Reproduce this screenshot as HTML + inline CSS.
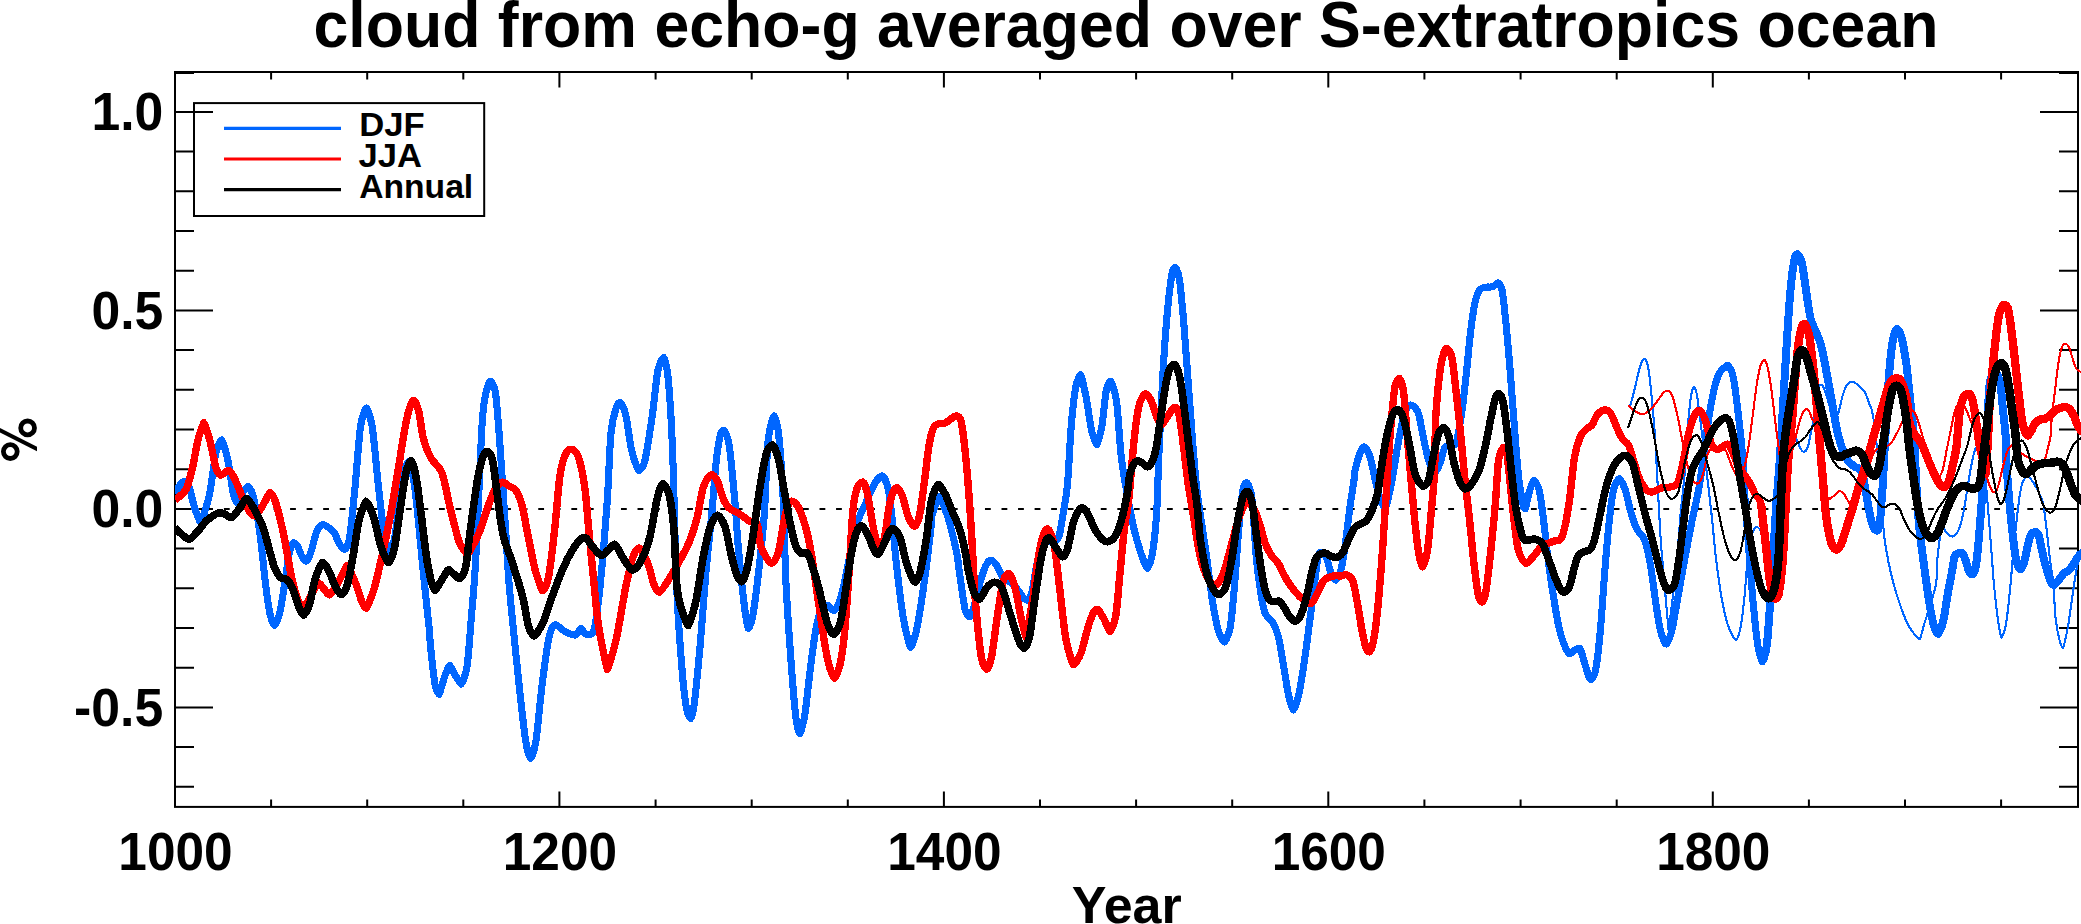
<!DOCTYPE html><html><head><meta charset="utf-8"><title>cloud from echo-g</title>
<style>html,body{margin:0;padding:0;background:#fff;}svg{display:block}text{font-family:"Liberation Sans",sans-serif;font-weight:bold;fill:#000}</style></head><body>
<svg width="2081" height="924" viewBox="0 0 2081 924">
<rect x="0" y="0" width="2081" height="924" fill="#fff"/>
<text x="1126" y="47.3" font-size="65" text-anchor="middle" textLength="1625" lengthAdjust="spacingAndGlyphs">cloud from echo-g averaged over S-extratropics ocean</text>
<defs><clipPath id="c"><rect x="175" y="72" width="1906" height="734.9"/></clipPath></defs>
<rect x="175" y="72" width="1903" height="734.9" fill="none" stroke="#000" stroke-width="2"/>
<path d="M175.0 806.9v-15.5M175.0 72v15.5M271.1 806.9v-7.5M271.1 72v7.5M367.2 806.9v-7.5M367.2 72v7.5M463.3 806.9v-7.5M463.3 72v7.5M559.4 806.9v-15.5M559.4 72v15.5M655.6 806.9v-7.5M655.6 72v7.5M751.7 806.9v-7.5M751.7 72v7.5M847.8 806.9v-7.5M847.8 72v7.5M943.9 806.9v-15.5M943.9 72v15.5M1040.0 806.9v-7.5M1040.0 72v7.5M1136.1 806.9v-7.5M1136.1 72v7.5M1232.2 806.9v-7.5M1232.2 72v7.5M1328.3 806.9v-15.5M1328.3 72v15.5M1424.4 806.9v-7.5M1424.4 72v7.5M1520.6 806.9v-7.5M1520.6 72v7.5M1616.7 806.9v-7.5M1616.7 72v7.5M1712.8 806.9v-15.5M1712.8 72v15.5M1808.9 806.9v-7.5M1808.9 72v7.5M1905.0 806.9v-7.5M1905.0 72v7.5M2001.1 806.9v-7.5M2001.1 72v7.5M175 786.8h19M2078 786.8h-19M175 747.1h19M2078 747.1h-19M175 707.4h38M2078 707.4h-38M175 667.7h19M2078 667.7h-19M175 628.0h19M2078 628.0h-19M175 588.3h19M2078 588.3h-19M175 548.6h19M2078 548.6h-19M175 508.9h38M2078 508.9h-38M175 469.2h19M2078 469.2h-19M175 429.5h19M2078 429.5h-19M175 389.8h19M2078 389.8h-19M175 350.1h19M2078 350.1h-19M175 310.4h38M2078 310.4h-38M175 270.7h19M2078 270.7h-19M175 231.0h19M2078 231.0h-19M175 191.3h19M2078 191.3h-19M175 151.6h19M2078 151.6h-19M175 111.9h38M2078 111.9h-38M175 72.9h19M2078 72.9h-19" stroke="#000" stroke-width="2" fill="none"/>
<line x1="223.9" y1="508.9" x2="2078" y2="508.9" stroke="#000" stroke-width="2" stroke-dasharray="5.8 10.745"/>
<g clip-path="url(#c)" fill="none" stroke-linejoin="round" stroke-linecap="butt" shape-rendering="crispEdges">
<path d="M175.0 493.4C175.7 492.1 177.9 487.7 179.4 485.8C180.8 483.8 182.5 481.5 183.8 481.7C185.1 481.8 187.3 482.6 189.0 486.6C190.7 490.6 192.0 499.4 194.0 505.6C195.9 511.8 200.4 523.7 200.7 523.7C201.0 523.8 204.1 514.0 205.7 508.5C207.2 503.1 208.4 500.3 210.1 491.0C211.8 481.8 214.0 461.6 215.9 453.0C217.8 444.5 221.4 439.7 221.7 439.9C222.1 440.1 225.6 449.9 227.6 458.9C229.5 467.9 231.9 487.6 233.4 493.9C234.9 500.3 237.3 502.8 237.8 502.7C238.3 502.6 241.1 495.2 242.8 492.5C244.5 489.8 247.2 486.3 248.0 486.6C248.9 487.0 251.4 489.4 253.3 496.9C255.2 504.3 257.7 517.3 259.7 531.9C261.8 546.5 263.9 570.9 265.6 584.5C267.3 598.1 268.5 606.9 269.9 613.7C271.4 620.5 274.0 625.4 274.3 625.4C274.7 625.4 277.9 620.5 279.6 613.7C281.3 606.9 283.0 594.2 284.6 584.5C286.1 574.8 287.5 562.2 288.9 555.3C290.4 548.4 292.6 543.8 293.3 543.0C294.1 542.3 296.2 544.2 297.7 546.5C299.2 548.8 300.6 554.3 302.1 556.7C303.5 559.2 305.7 561.5 306.5 561.1C307.2 560.7 309.1 557.2 310.8 552.4C312.5 547.5 314.7 536.5 316.7 531.9C318.6 527.3 320.7 525.3 322.5 524.6C324.3 523.9 326.4 526.2 328.4 527.5C330.3 528.8 332.4 529.8 334.2 532.5C336.0 535.2 337.5 540.8 339.2 543.6C340.9 546.4 343.6 549.8 344.4 549.4C345.3 549.1 348.1 546.7 349.4 539.2C350.7 531.8 352.8 509.8 354.7 491.0C356.5 472.3 358.7 439.9 360.5 426.7C362.4 413.6 366.1 407.8 366.4 407.8C366.6 407.8 370.2 414.3 372.2 426.7C374.1 439.2 376.1 464.7 378.0 482.2C380.0 499.8 381.9 519.7 383.9 531.9C385.8 544.1 389.5 555.2 389.7 555.3C389.9 555.4 393.0 547.5 394.7 537.8C396.4 528.0 398.3 508.1 399.9 496.9C401.6 485.7 402.9 476.4 404.3 470.6C405.8 464.7 408.4 461.6 408.7 461.8C409.0 462.0 411.6 468.1 413.1 476.4C414.6 484.7 415.8 495.4 417.5 511.5C419.2 527.5 421.4 553.3 423.3 572.8C425.3 592.3 428.0 616.5 429.2 628.3C430.3 640.1 429.6 636.8 430.5 646.1C431.5 655.4 433.6 676.8 434.9 684.0C436.2 691.3 439.0 694.5 439.3 694.3C439.6 694.0 443.4 680.2 445.1 675.3C446.8 670.4 449.0 665.1 449.5 665.1C450.0 665.1 453.4 672.1 455.3 675.3C457.3 678.4 460.6 684.5 461.2 684.0C461.8 683.6 465.3 677.7 467.0 666.5C468.7 655.3 469.9 634.9 471.4 616.9C472.9 598.8 473.9 591.6 475.8 558.4C477.6 525.2 480.9 440.2 482.5 417.6C484.2 395.0 487.8 386.6 488.4 384.2C489.0 381.7 490.7 380.9 491.3 381.7C491.9 382.5 494.5 385.5 495.7 394.3C496.9 403.1 498.4 423.5 500.1 446.9C501.8 470.2 504.3 511.0 505.9 534.5C507.5 558.0 507.3 564.2 509.4 587.6C511.4 611.1 515.5 650.0 518.1 675.3C520.8 700.6 523.5 726.6 525.5 739.6C527.4 752.5 530.2 758.5 530.4 758.5C530.6 758.6 533.9 753.6 535.7 742.5C537.5 731.4 539.6 706.0 541.5 689.9C543.5 673.8 545.7 656.3 547.4 646.1C549.1 635.8 550.3 632.0 551.7 628.5C553.2 625.1 554.0 624.6 556.1 625.0C558.3 625.5 561.7 629.8 564.9 631.5C568.1 633.1 572.4 635.5 575.1 635.0C577.8 634.5 579.8 628.7 581.0 628.5C582.1 628.4 583.4 633.1 585.3 633.8C587.3 634.5 590.8 635.7 592.6 632.9C594.5 630.1 595.0 626.8 596.4 616.9C597.9 606.9 599.6 592.5 601.4 573.0C603.2 553.6 605.6 523.5 607.3 500.0C608.9 476.5 609.5 447.9 611.1 432.2C612.7 416.6 615.9 408.9 616.9 405.8C617.9 402.7 619.9 401.9 620.7 402.7C621.5 403.6 623.9 406.9 625.7 414.7C627.5 422.6 629.6 440.9 631.5 449.8C633.5 458.7 636.6 466.3 637.4 468.1C638.1 469.9 638.9 470.7 639.7 469.9C640.5 469.2 643.2 467.8 644.7 461.5C646.2 455.1 649.8 432.7 652.0 417.6C654.2 402.5 656.0 380.5 657.8 370.9C659.7 361.3 663.4 357.3 663.7 357.5C663.9 357.6 666.8 363.6 668.0 376.7C669.3 389.9 671.0 411.7 672.4 446.9C673.9 482.0 675.0 549.6 676.7 587.6C678.4 625.7 680.8 654.8 682.5 675.3C684.2 695.7 685.8 704.4 686.9 710.3C688.0 716.2 690.5 718.7 690.7 718.5C690.9 718.4 693.0 714.1 694.2 704.5C695.4 694.9 698.1 668.0 700.1 646.1C702.0 624.2 704.0 594.9 705.9 573.0C707.8 551.1 710.0 533.2 711.7 514.6C713.5 496.0 714.8 475.0 716.2 461.5C717.7 448.0 719.8 436.7 720.6 433.6C721.5 430.4 723.7 429.4 724.4 430.5C725.1 431.6 727.8 435.6 729.4 446.9C731.0 458.1 733.8 489.1 735.2 505.3C736.7 521.4 736.6 527.7 738.0 543.8C739.5 560.0 742.2 588.1 743.9 602.2C745.6 616.4 748.1 628.3 748.3 628.5C748.4 628.8 751.1 625.0 752.6 616.9C754.1 608.7 756.5 590.1 758.5 573.0C760.4 556.0 762.7 536.6 764.3 514.6C765.9 492.6 766.5 457.5 768.1 441.0C769.8 424.6 773.8 416.0 774.0 415.9C774.1 415.8 777.1 421.0 778.4 432.2C779.7 443.5 781.4 464.8 782.8 490.7C784.1 516.6 784.7 556.9 786.2 587.6C787.8 618.4 790.4 652.9 792.1 675.3C793.8 697.7 795.4 714.0 796.5 722.0C797.6 730.1 799.8 733.8 800.0 733.7C800.1 733.6 803.0 725.9 804.6 716.2C806.3 706.4 807.8 689.4 809.6 675.3C811.4 661.2 813.5 642.4 815.5 631.5C817.4 620.5 819.3 613.9 821.3 609.6C823.2 605.2 825.1 605.0 827.1 605.2C829.2 605.3 832.4 611.1 833.9 610.4C835.3 609.8 838.0 606.5 840.3 599.3C842.6 592.1 845.2 578.9 847.6 567.2C850.0 555.5 851.8 540.0 854.9 529.2C858.0 518.4 862.7 510.0 866.0 502.4C869.3 494.7 872.1 487.8 874.8 483.4C877.5 478.9 881.0 475.4 882.1 475.8C883.2 476.1 886.2 480.4 887.9 487.8C889.6 495.1 891.0 508.1 892.3 519.9C893.6 531.7 894.0 542.3 895.8 558.4C897.6 574.6 900.7 602.0 903.1 616.9C905.5 631.7 910.1 647.2 910.4 647.5C910.7 647.8 914.1 641.4 916.2 631.5C918.4 621.5 921.1 604.7 923.5 587.6C926.0 570.6 929.9 537.3 930.8 529.2C931.8 521.1 930.4 522.5 931.7 517.0C933.1 511.5 938.5 496.2 939.0 496.2C939.6 496.2 944.9 507.7 947.8 517.0C950.7 526.3 954.6 542.8 956.6 552.0C958.5 561.2 957.9 562.6 959.4 572.2C960.8 581.9 963.9 604.7 965.2 610.1C966.5 615.4 969.6 617.1 970.2 616.7C970.8 616.2 973.6 607.9 975.4 601.5C977.3 595.0 979.3 584.4 981.3 578.1C983.2 571.7 985.4 566.3 987.1 563.3C988.8 560.4 990.0 559.8 991.5 560.3C993.0 560.7 995.4 563.4 997.4 566.4C999.3 569.4 1001.0 575.4 1003.2 578.1C1005.4 580.8 1008.1 580.5 1010.5 582.5C1012.9 584.4 1015.6 587.2 1017.8 589.8C1020.0 592.3 1021.9 596.2 1023.7 597.9C1025.4 599.6 1027.0 601.0 1028.0 600.0C1029.1 599.0 1030.7 596.8 1032.4 589.8C1034.1 582.7 1036.1 565.4 1038.3 557.6C1040.5 549.9 1043.1 546.0 1045.6 543.0C1048.0 540.1 1050.7 541.1 1052.9 540.1C1055.1 539.1 1057.1 541.3 1058.7 537.2C1060.3 533.1 1061.6 522.6 1063.1 513.8C1064.6 505.1 1066.1 499.4 1067.5 484.6C1068.8 469.9 1069.9 441.5 1071.3 425.3C1072.7 409.1 1074.1 395.7 1075.7 387.3C1077.2 378.9 1080.4 374.5 1080.6 374.7C1080.9 375.0 1084.0 386.7 1085.9 396.1C1087.8 405.5 1089.9 423.0 1091.7 431.1C1093.6 439.3 1096.8 445.0 1097.0 444.9C1097.2 444.7 1100.4 434.4 1102.0 425.3C1103.5 416.2 1105.0 396.8 1106.3 390.2C1107.7 383.6 1110.4 380.8 1110.7 381.2C1111.1 381.5 1114.9 389.7 1116.6 401.9C1118.3 414.1 1119.5 440.9 1121.0 454.5C1122.4 468.1 1123.3 471.9 1125.3 483.7C1127.4 495.5 1130.7 514.2 1133.2 525.5C1135.7 536.9 1138.2 544.6 1140.5 551.8C1142.8 559.0 1146.8 568.4 1147.2 568.5C1147.6 568.5 1150.6 563.8 1152.2 554.7C1153.8 545.6 1155.5 530.5 1156.6 513.8C1157.7 497.1 1157.8 479.0 1158.9 454.5C1160.1 430.0 1161.9 391.2 1163.3 366.9C1164.8 342.5 1166.2 324.0 1167.7 308.4C1169.2 292.8 1171.3 277.8 1172.1 273.4C1172.9 268.9 1174.7 267.0 1175.0 267.2C1175.3 267.5 1178.1 270.8 1179.4 279.2C1180.7 287.6 1182.3 306.0 1183.8 323.0C1185.2 340.1 1186.7 362.0 1188.1 381.5C1189.6 400.9 1191.1 421.9 1192.5 439.9C1194.0 457.9 1194.6 469.9 1196.9 489.6C1199.3 509.2 1204.1 539.0 1206.7 557.6C1209.3 576.3 1210.6 589.3 1212.5 601.5C1214.5 613.6 1216.4 623.9 1218.4 630.7C1220.3 637.4 1223.7 642.2 1224.2 642.1C1224.7 641.9 1228.4 637.0 1230.1 627.8C1231.8 618.6 1233.0 603.4 1234.4 586.9C1235.9 570.3 1237.4 544.9 1238.8 528.4C1240.3 511.9 1242.5 492.1 1243.2 488.0C1244.0 483.8 1246.5 482.3 1247.0 482.9C1247.5 483.4 1250.6 487.9 1252.0 499.2C1253.4 510.5 1254.9 542.1 1256.3 557.6C1257.8 573.2 1259.3 583.4 1260.7 592.7C1262.2 602.0 1263.2 608.3 1265.1 613.1C1267.1 618.0 1270.2 618.0 1272.4 621.9C1274.6 625.8 1276.3 628.7 1278.3 636.5C1280.2 644.3 1282.4 658.9 1284.1 668.7C1285.8 678.4 1286.9 688.0 1288.5 694.9C1290.0 701.9 1293.2 710.1 1293.5 710.1C1293.7 710.1 1296.9 703.3 1298.7 694.9C1300.6 686.6 1302.6 673.0 1304.6 659.9C1306.5 646.7 1308.7 629.2 1310.4 616.1C1312.1 602.9 1313.5 591.1 1314.8 581.0C1316.1 571.0 1317.4 559.2 1318.3 555.8C1319.1 552.4 1321.2 551.9 1322.1 552.1C1323.0 552.3 1325.0 554.5 1326.5 557.8C1327.9 561.2 1329.3 568.5 1330.8 572.2C1332.4 576.0 1335.2 580.3 1335.8 580.1C1336.4 580.0 1339.5 575.5 1341.1 569.3C1342.7 563.1 1344.0 553.3 1345.5 543.0C1346.9 532.8 1348.4 518.7 1349.8 508.0C1351.3 497.3 1353.3 485.3 1354.2 478.8C1355.2 472.2 1354.3 473.5 1355.4 468.7C1356.6 463.8 1360.1 452.4 1361.3 449.8C1362.4 447.2 1363.8 446.5 1364.8 447.3C1365.8 448.1 1368.2 451.0 1370.1 457.0C1371.9 463.0 1374.0 475.6 1375.9 483.3C1377.8 491.0 1380.3 500.0 1381.7 503.1C1383.2 506.2 1385.4 507.4 1386.1 505.8C1386.9 504.1 1390.0 490.4 1392.0 480.3C1393.9 470.3 1395.9 456.0 1397.8 445.3C1399.8 434.6 1401.9 422.5 1403.7 416.1C1405.4 409.6 1406.6 408.3 1408.0 406.6C1409.5 404.8 1410.7 404.5 1412.4 405.6C1414.1 406.6 1416.6 408.5 1418.3 413.1C1420.0 417.8 1420.9 425.8 1422.6 433.6C1424.3 441.4 1426.5 453.2 1428.5 459.9C1430.4 466.6 1433.8 473.5 1434.3 473.6C1434.9 473.8 1438.5 467.0 1440.2 462.8C1441.9 458.6 1442.8 451.1 1444.6 448.2C1446.3 445.3 1448.4 446.3 1450.4 445.3C1452.3 444.3 1454.9 446.5 1456.2 442.4C1457.6 438.2 1460.4 421.9 1462.1 410.2C1463.8 398.5 1465.0 385.6 1466.5 372.2C1467.9 358.9 1469.4 341.7 1470.8 329.9C1472.3 318.1 1473.8 308.2 1475.2 301.6C1476.7 294.9 1477.9 292.5 1479.6 290.2C1481.3 287.8 1483.3 287.8 1485.5 287.2C1487.6 286.7 1490.7 287.5 1492.8 286.7C1494.9 286.0 1497.0 282.4 1498.0 282.9C1499.0 283.3 1501.0 284.8 1502.1 290.4C1503.2 296.1 1504.5 309.0 1505.9 322.6C1507.3 336.2 1508.8 354.2 1510.3 372.2C1511.7 390.3 1513.2 412.7 1514.7 430.7C1516.1 448.7 1517.6 467.8 1519.0 480.3C1520.5 492.9 1522.9 503.9 1523.4 506.1C1523.9 508.2 1525.2 509.3 1525.5 508.7C1525.7 508.1 1527.9 496.8 1529.3 492.0C1530.6 487.3 1533.2 480.5 1533.7 480.3C1534.1 480.2 1537.4 483.2 1539.0 489.7C1540.7 496.1 1542.0 507.7 1543.4 518.9C1544.9 530.1 1546.1 543.7 1547.8 556.9C1549.5 570.0 1551.7 585.6 1553.7 597.8C1555.6 609.9 1557.5 621.6 1559.5 629.9C1561.4 638.1 1563.6 643.3 1565.3 647.3C1567.0 651.3 1568.6 653.4 1569.7 653.8C1570.8 654.3 1572.4 651.5 1574.1 650.6C1575.8 649.8 1578.7 647.2 1579.9 648.6C1581.2 650.0 1582.9 657.4 1584.3 662.0C1585.8 666.6 1587.6 673.5 1588.7 676.1C1589.8 678.7 1591.1 679.9 1591.6 679.3C1592.2 678.7 1594.6 675.9 1596.0 667.9C1597.4 659.9 1598.9 646.0 1600.4 629.9C1601.9 613.8 1603.3 589.5 1604.8 571.5C1606.2 553.4 1607.7 535.4 1609.2 521.8C1610.6 508.2 1612.1 496.5 1613.5 489.7C1615.0 482.8 1617.1 481.5 1617.9 480.2C1618.7 478.9 1619.3 478.2 1620.0 479.1C1620.7 480.1 1623.4 484.0 1625.2 489.7C1627.1 495.3 1629.1 506.5 1631.1 513.0C1633.0 519.6 1634.7 524.7 1636.9 529.1C1639.1 533.5 1642.0 533.7 1644.2 539.3C1646.4 544.9 1648.1 552.0 1650.1 562.7C1652.0 573.4 1654.2 592.4 1655.9 603.6C1657.6 614.8 1658.8 623.4 1660.3 629.9C1661.7 636.3 1664.0 640.8 1664.7 642.3C1665.4 643.8 1666.2 644.5 1666.7 643.6C1667.2 642.8 1670.1 637.5 1672.0 629.9C1673.8 622.2 1675.6 609.9 1677.8 597.8C1680.0 585.6 1682.7 570.0 1685.1 556.9C1687.6 543.7 1690.0 531.1 1692.4 518.9C1694.9 506.7 1697.3 498.7 1699.7 483.8C1702.2 469.0 1704.8 444.7 1707.0 429.9C1709.2 415.1 1710.9 404.1 1712.9 394.8C1714.8 385.6 1716.8 378.9 1718.7 374.4C1720.7 369.8 1722.9 369.0 1724.6 367.5C1726.2 366.1 1727.2 364.7 1728.4 365.9C1729.5 367.2 1731.8 370.1 1733.3 377.3C1734.9 384.6 1736.2 397.3 1737.7 409.4C1739.2 421.6 1740.9 435.5 1742.1 450.3C1743.3 465.2 1743.8 480.7 1745.0 498.4C1746.2 516.2 1747.9 538.4 1749.4 556.9C1750.8 575.4 1752.3 594.3 1753.8 609.4C1755.2 624.5 1756.7 638.7 1758.2 647.4C1759.6 656.1 1762.4 661.8 1762.5 661.7C1762.7 661.7 1765.6 656.3 1766.9 644.5C1768.3 632.7 1769.8 608.0 1771.3 586.1C1772.8 564.2 1774.2 534.9 1775.7 513.0C1777.1 491.1 1778.4 480.6 1780.1 454.6C1781.8 428.6 1784.2 383.9 1785.9 356.9C1787.6 329.9 1788.8 309.0 1790.3 292.6C1791.7 276.2 1794.0 261.7 1794.7 258.4C1795.3 255.1 1797.1 254.0 1797.6 254.3C1798.1 254.6 1800.5 257.0 1802.0 263.4C1803.4 269.7 1804.9 283.3 1806.4 292.6C1807.8 301.8 1809.0 312.1 1810.7 318.9C1812.4 325.7 1814.9 329.1 1816.6 333.5C1818.3 337.9 1819.5 339.8 1821.0 345.2C1822.4 350.5 1823.6 356.9 1825.3 365.6C1827.0 374.4 1829.2 387.0 1831.2 397.8C1833.1 408.5 1835.1 421.1 1837.0 429.9C1839.0 438.7 1840.9 445.0 1842.9 450.3C1844.8 455.7 1848.5 461.6 1848.7 462.0C1849.0 462.5 1849.0 462.0 1849.4 462.3C1849.8 462.6 1852.9 465.5 1854.6 466.6C1856.3 467.8 1858.4 467.4 1859.8 469.2C1861.2 471.1 1862.1 473.3 1863.3 477.9C1864.4 482.5 1865.6 490.6 1866.7 496.9C1867.9 503.3 1869.0 510.9 1870.2 516.0C1871.3 521.1 1872.5 525.1 1873.7 527.5C1874.8 530.0 1876.6 530.9 1877.1 530.7C1877.6 530.4 1879.0 528.9 1879.7 524.4C1880.4 520.0 1880.9 511.6 1881.4 503.8C1882.0 496.1 1882.6 488.0 1883.2 477.9C1883.7 467.8 1884.3 453.4 1884.9 443.3C1885.5 433.2 1886.1 426.8 1886.6 417.3C1887.2 407.8 1887.2 398.6 1888.2 386.1C1889.1 373.6 1891.1 351.6 1892.5 342.2C1894.0 332.9 1896.5 329.1 1896.9 328.8C1897.3 328.6 1899.8 330.8 1901.3 336.4C1902.8 342.0 1904.9 354.3 1906.2 362.7C1907.4 371.1 1907.9 378.8 1908.8 386.9C1909.7 395.0 1910.5 402.8 1911.4 411.1C1912.2 419.5 1912.8 419.8 1914.0 437.1C1915.1 454.5 1916.6 494.9 1918.3 516.4C1920.0 537.9 1922.2 551.0 1924.1 566.1C1926.1 581.2 1928.3 596.8 1930.0 607.0C1931.7 617.2 1933.0 622.8 1934.4 627.3C1935.7 631.8 1937.7 634.1 1938.2 633.8C1938.6 633.6 1941.6 628.0 1943.1 621.6C1944.7 615.2 1946.1 603.6 1947.5 595.3C1949.0 587.0 1950.7 578.4 1951.9 571.9C1953.1 565.4 1953.7 559.2 1954.7 556.3C1955.6 553.5 1957.0 554.1 1958.1 553.5C1959.3 552.9 1960.4 552.1 1961.6 552.9C1962.7 553.7 1963.9 555.5 1965.0 558.4C1966.2 561.2 1967.3 567.1 1968.5 569.8C1969.7 572.5 1971.4 574.6 1972.0 574.5C1972.5 574.4 1974.4 572.7 1975.4 568.3C1976.4 563.8 1977.2 556.3 1978.0 547.7C1978.9 539.1 1979.7 527.5 1980.6 516.5C1981.5 505.6 1982.3 493.5 1983.2 481.9C1984.1 470.4 1984.8 463.1 1985.8 447.3C1986.8 431.5 1988.6 394.5 1989.3 386.9C1989.9 379.4 1991.0 378.3 1991.9 375.9C1992.7 373.4 1993.8 372.5 1994.5 372.2C1995.1 372.0 1996.2 372.1 1997.1 374.1C1997.9 376.0 1999.5 379.0 2000.5 385.2C2001.5 391.4 2002.2 402.5 2003.1 411.1C2004.0 419.8 2005.1 428.2 2005.7 437.1C2006.3 446.0 2006.0 454.3 2006.6 464.6C2007.1 475.0 2008.2 487.7 2009.2 499.2C2010.2 510.8 2011.5 523.7 2012.6 533.8C2013.8 543.9 2014.8 553.9 2016.1 559.8C2017.4 565.7 2020.0 569.1 2020.4 569.3C2020.8 569.5 2022.7 566.7 2023.9 563.1C2025.0 559.5 2026.2 552.3 2027.3 547.7C2028.5 543.0 2029.5 537.8 2030.8 535.2C2032.1 532.6 2033.9 532.1 2035.1 532.1C2036.4 532.1 2037.5 532.3 2038.6 535.2C2039.6 538.1 2040.8 545.6 2042.1 551.1C2043.4 556.7 2044.9 563.4 2046.4 568.5C2047.8 573.6 2049.4 579.0 2050.7 581.8C2052.0 584.5 2053.2 585.1 2054.2 584.9C2055.2 584.7 2056.9 582.1 2058.5 580.2C2060.1 578.3 2062.0 575.3 2063.7 573.6C2065.4 572.0 2067.1 571.9 2068.9 570.2C2070.6 568.5 2072.5 565.6 2074.1 563.3C2075.7 561.0 2076.9 558.2 2078.4 556.3C2079.9 554.5 2082.2 552.7 2083.0 551.9" stroke="#0066ff" stroke-width="7.1"/>
<path d="M1762.5 661.7C1763.3 658.9 1765.6 656.3 1766.9 644.5C1768.3 632.7 1769.8 608.0 1771.3 586.1C1772.8 564.2 1774.2 534.9 1775.7 513.0C1777.1 491.1 1778.4 480.6 1780.1 454.6C1781.8 428.6 1784.2 383.9 1785.9 356.9C1787.6 329.9 1788.8 309.0 1790.3 292.6C1791.7 276.2 1794.0 261.7 1794.7 258.4C1795.3 255.1 1797.1 254.0 1797.6 254.3C1798.1 254.6 1800.5 257.0 1802.0 263.4C1803.4 269.7 1804.9 283.3 1806.4 292.6C1807.8 301.8 1809.0 312.1 1810.7 318.9C1812.4 325.7 1814.9 329.1 1816.6 333.5C1818.3 337.9 1819.5 339.8 1821.0 345.2C1822.4 350.5 1823.6 356.9 1825.3 365.6C1827.0 374.4 1829.2 387.0 1831.2 397.8C1833.1 408.5 1835.1 421.1 1837.0 429.9C1839.0 438.7 1840.9 445.0 1842.9 450.3C1844.8 455.7 1848.5 461.6 1848.7 462.0C1849.0 462.5 1849.0 462.0 1849.4 462.3C1849.8 462.6 1852.9 465.5 1854.6 466.6C1856.3 467.8 1858.4 467.4 1859.8 469.2C1861.2 471.1 1862.1 473.3 1863.3 477.9C1864.4 482.5 1865.6 490.6 1866.7 496.9C1867.9 503.3 1869.0 510.9 1870.2 516.0C1871.3 521.1 1872.5 525.1 1873.7 527.5C1874.8 530.0 1876.6 530.9 1877.1 530.7C1877.6 530.4 1879.0 528.9 1879.7 524.4C1880.4 520.0 1880.9 511.6 1881.4 503.8C1882.0 496.1 1882.6 488.0 1883.2 477.9C1883.7 467.8 1884.3 453.4 1884.9 443.3C1885.5 433.2 1886.1 426.8 1886.6 417.3C1887.2 407.8 1887.2 398.6 1888.2 386.1C1889.1 373.6 1891.1 351.6 1892.5 342.2C1894.0 332.9 1896.5 329.1 1896.9 328.8C1897.3 328.6 1899.8 330.8 1901.3 336.4C1902.8 342.0 1904.9 354.3 1906.2 362.7C1907.4 371.1 1907.9 378.8 1908.8 386.9C1909.7 395.0 1910.5 402.8 1911.4 411.1C1912.2 419.5 1912.8 419.8 1914.0 437.1C1915.1 454.5 1916.6 494.9 1918.3 516.4C1920.0 537.9 1922.2 551.0 1924.1 566.1C1926.1 581.2 1928.3 596.8 1930.0 607.0C1931.7 617.2 1933.0 622.8 1934.4 627.3C1935.7 631.8 1937.7 634.1 1938.2 633.8C1938.6 633.6 1941.6 628.0 1943.1 621.6C1944.7 615.2 1946.1 603.6 1947.5 595.3C1949.0 587.0 1950.7 578.4 1951.9 571.9C1953.1 565.4 1953.7 559.2 1954.7 556.3C1955.6 553.5 1957.0 554.1 1958.1 553.5C1959.3 552.9 1960.4 552.1 1961.6 552.9C1962.7 553.7 1963.9 555.5 1965.0 558.4C1966.2 561.2 1967.3 567.1 1968.5 569.8C1969.7 572.5 1971.4 574.6 1972.0 574.5C1972.5 574.4 1974.4 572.7 1975.4 568.3C1976.4 563.8 1977.2 556.3 1978.0 547.7C1978.9 539.1 1979.7 527.5 1980.6 516.5C1981.5 505.6 1982.3 493.5 1983.2 481.9C1984.1 470.4 1984.8 463.1 1985.8 447.3C1986.8 431.5 1988.6 394.5 1989.3 386.9C1989.9 379.4 1991.0 378.3 1991.9 375.9C1992.7 373.4 1993.8 372.5 1994.5 372.2C1995.1 372.0 1996.2 372.1 1997.1 374.1C1997.9 376.0 1999.5 379.0 2000.5 385.2C2001.5 391.4 2002.2 402.5 2003.1 411.1C2004.0 419.8 2005.1 428.2 2005.7 437.1C2006.3 446.0 2006.0 454.3 2006.6 464.6C2007.1 475.0 2008.2 487.7 2009.2 499.2C2010.2 510.8 2011.5 523.7 2012.6 533.8C2013.8 543.9 2014.8 553.9 2016.1 559.8C2017.4 565.7 2020.0 569.1 2020.4 569.3C2020.8 569.5 2022.7 566.7 2023.9 563.1C2025.0 559.5 2026.2 552.3 2027.3 547.7C2028.5 543.0 2029.5 537.8 2030.8 535.2C2032.1 532.6 2033.9 532.1 2035.1 532.1C2036.4 532.1 2037.5 532.3 2038.6 535.2C2039.6 538.1 2040.8 545.6 2042.1 551.1C2043.4 556.7 2044.9 563.4 2046.4 568.5C2047.8 573.6 2049.4 579.0 2050.7 581.8C2052.0 584.5 2053.2 585.1 2054.2 584.9C2055.2 584.7 2056.9 582.1 2058.5 580.2C2060.1 578.3 2062.0 575.3 2063.7 573.6C2065.4 572.0 2067.1 571.9 2068.9 570.2C2070.6 568.5 2072.5 565.6 2074.1 563.3C2075.7 561.0 2076.9 558.2 2078.4 556.3C2079.9 554.5 2082.2 552.7 2083.0 551.9" stroke="#0066ff" stroke-width="8"/>
<path d="M1629.7 407.5C1630.4 404.9 1632.6 397.7 1634.0 391.9C1635.5 386.2 1637.1 377.9 1638.4 372.9C1639.7 367.8 1640.8 364.0 1641.8 361.6C1642.9 359.3 1644.3 358.3 1644.8 358.7C1645.3 359.0 1646.9 361.6 1647.9 366.0C1648.8 370.3 1649.6 377.2 1650.5 385.0C1651.3 392.8 1652.2 402.3 1653.1 412.7C1653.9 423.1 1654.5 427.2 1655.7 447.3C1656.9 467.4 1658.8 510.4 1660.3 533.5C1661.8 556.6 1663.3 570.0 1664.7 586.1C1666.0 602.1 1668.4 629.8 1668.5 629.9C1668.5 629.9 1670.7 614.3 1672.0 603.6C1673.3 592.9 1674.9 580.7 1676.4 565.6C1677.8 550.5 1679.3 529.1 1680.7 513.0C1682.2 497.0 1683.8 485.1 1685.1 469.2C1686.4 453.4 1687.5 430.2 1688.6 417.9C1689.6 405.6 1690.3 400.5 1691.2 395.4C1692.0 390.2 1693.5 387.2 1693.7 387.1C1693.9 386.9 1695.5 388.4 1696.3 391.9C1697.2 395.5 1698.1 402.9 1698.9 409.2C1699.8 415.6 1700.7 423.1 1701.5 430.0C1702.4 436.9 1702.5 436.9 1704.1 450.8C1705.8 464.6 1709.5 495.4 1711.4 513.0C1713.4 530.7 1714.1 542.7 1715.8 556.9C1717.5 571.0 1719.7 586.6 1721.6 597.8C1723.6 609.0 1725.5 617.5 1727.5 624.0C1729.4 630.6 1731.9 634.9 1733.3 637.2C1734.7 639.5 1736.1 640.3 1736.8 639.2C1737.6 638.2 1739.4 633.9 1740.6 627.0C1741.9 620.1 1743.2 609.4 1744.4 597.8C1745.6 586.1 1746.6 567.6 1747.9 556.9C1749.2 546.1 1750.8 538.5 1752.3 533.5C1753.9 528.5 1756.3 527.1 1757.3 527.1C1758.3 527.1 1760.7 530.7 1762.5 533.5C1764.4 536.3 1767.1 542.0 1768.4 543.7C1769.7 545.5 1770.8 546.4 1771.3 545.2C1771.8 544.0 1774.2 537.9 1775.7 527.6C1777.1 517.4 1778.9 491.5 1780.1 483.8C1781.2 476.1 1782.5 477.4 1783.7 472.7C1784.8 467.9 1786.0 460.6 1787.1 455.4C1788.3 450.2 1789.4 444.7 1790.6 441.5C1791.7 438.4 1793.5 436.3 1794.0 436.3C1794.6 436.3 1796.3 439.4 1797.5 441.5C1798.7 443.7 1799.8 447.6 1801.0 449.3C1802.1 451.1 1803.6 452.2 1804.4 451.9C1805.3 451.6 1806.9 449.6 1807.9 446.7C1808.9 443.8 1809.6 438.7 1810.5 434.6C1811.3 430.6 1812.2 426.8 1813.1 422.5C1813.9 418.2 1814.8 414.2 1815.7 408.7C1816.5 403.1 1817.1 392.7 1818.0 389.0C1819.0 385.2 1821.3 384.4 1821.8 384.6C1822.4 384.8 1824.0 388.3 1825.3 391.9C1826.7 395.6 1828.3 402.1 1829.7 406.5C1831.2 410.9 1833.6 417.9 1834.1 418.2C1834.6 418.6 1837.0 416.3 1838.5 412.4C1839.9 408.5 1841.4 399.5 1842.9 394.8C1844.3 390.2 1845.5 386.8 1847.3 384.6C1849.0 382.4 1851.1 381.4 1853.1 381.7C1855.0 381.9 1857.0 384.4 1858.9 386.1C1860.9 387.8 1863.1 389.0 1864.8 391.9C1866.5 394.8 1868.0 400.5 1869.2 403.6C1870.4 406.7 1871.0 406.7 1871.9 410.4C1872.8 414.1 1873.7 419.6 1874.5 426.0C1875.4 432.3 1876.2 439.8 1877.1 448.5C1878.0 457.1 1878.7 465.2 1879.7 477.9C1880.7 490.6 1882.2 513.1 1883.2 524.6C1884.2 536.1 1884.3 538.3 1885.8 547.1C1887.2 556.0 1889.5 567.8 1892.0 577.8C1894.5 587.7 1897.9 598.7 1900.8 607.0C1903.7 615.2 1906.4 622.1 1909.5 627.4C1912.7 632.8 1918.9 639.3 1919.8 639.1C1920.6 638.9 1921.5 633.4 1924.1 624.5C1926.8 615.6 1933.4 596.5 1935.6 585.8C1937.8 575.0 1936.6 567.9 1937.3 559.8C1938.1 551.7 1939.1 542.8 1939.9 537.3C1940.8 531.8 1942.3 527.1 1942.5 526.9C1942.8 526.7 1944.8 530.7 1946.0 532.1C1947.2 533.6 1948.3 534.9 1949.5 535.6C1950.6 536.3 1951.8 536.7 1952.9 536.4C1954.1 536.1 1955.2 535.4 1956.4 533.8C1957.5 532.3 1958.7 530.4 1959.8 526.9C1961.0 523.5 1962.2 518.8 1963.3 513.1C1964.5 507.3 1965.6 499.2 1966.8 492.3C1967.9 485.4 1969.1 477.9 1970.2 471.5C1971.4 465.2 1972.5 458.6 1973.7 454.2C1974.8 449.9 1976.2 447.1 1977.2 445.6C1978.1 444.0 1979.1 443.8 1979.7 444.7C1980.4 445.6 1981.5 447.7 1982.3 452.5C1983.2 457.3 1984.1 464.9 1984.9 473.3C1985.8 481.6 1986.7 492.6 1987.5 502.7C1988.4 512.8 1989.3 522.9 1990.1 533.8C1991.0 544.8 1992.0 559.1 1992.7 568.5C1993.4 577.8 1993.5 580.6 1994.5 589.9C1995.4 599.3 1997.5 616.5 1998.6 624.5C1999.8 632.5 2001.4 637.6 2001.6 637.6C2001.7 637.6 2004.5 632.5 2005.9 624.5C2007.4 616.5 2008.9 600.7 2010.0 589.9C2011.1 579.1 2011.8 569.1 2012.6 559.8C2013.5 550.5 2014.2 543.4 2015.2 533.8C2016.2 524.3 2017.5 511.1 2018.7 502.7C2019.8 494.3 2021.0 487.8 2022.1 483.7C2023.3 479.5 2024.6 478.7 2025.6 477.6C2026.6 476.4 2027.2 476.3 2028.2 476.7C2029.2 477.2 2030.5 478.7 2031.7 480.2C2032.8 481.6 2033.8 483.1 2035.1 485.4C2036.4 487.7 2038.2 491.2 2039.5 494.0C2040.8 496.9 2041.9 498.4 2042.9 502.7C2043.9 507.0 2044.6 513.4 2045.5 520.0C2046.4 526.6 2047.2 535.0 2048.1 542.5C2049.0 550.0 2049.8 558.4 2050.7 565.0C2051.6 571.6 2052.5 573.4 2053.3 582.3C2054.1 591.2 2054.5 608.7 2055.6 618.7C2056.7 628.6 2058.9 637.8 2060.0 642.0C2061.1 646.3 2062.7 648.2 2062.9 647.9C2063.1 647.5 2065.8 638.1 2067.3 630.3C2068.8 622.6 2070.2 610.9 2071.7 601.1C2073.1 591.4 2074.9 578.5 2076.1 571.9C2077.2 565.3 2077.2 565.4 2078.4 561.7C2079.6 558.0 2082.2 551.6 2083.0 549.6" stroke="#0066ff" stroke-width="2.1"/>
<path d="M175.0 499.8C176.0 499.0 178.9 497.3 180.8 495.4C182.8 493.4 184.7 492.7 186.7 488.1C188.6 483.5 190.6 475.9 192.5 467.6C194.5 459.4 196.4 446.0 198.4 438.4C200.3 430.9 203.9 422.3 204.2 422.4C204.5 422.4 208.1 433.8 210.1 441.3C212.0 448.9 214.2 462.2 215.9 467.6C217.6 473.1 219.0 474.2 220.3 474.9C221.5 475.7 223.2 473.6 224.7 472.9C226.1 472.2 227.6 469.7 229.0 470.6C230.5 471.5 232.7 474.9 234.9 479.3C237.1 483.7 239.8 491.5 242.2 496.9C244.6 502.2 247.3 508.3 249.5 511.5C251.7 514.6 253.7 516.6 255.3 515.8C257.0 515.1 260.2 509.5 262.6 505.6C265.1 501.7 269.1 492.7 269.9 492.5C270.8 492.3 273.6 496.1 275.8 502.7C278.0 509.3 281.1 523.1 283.1 531.9C285.0 540.7 286.0 547.5 287.5 555.3C288.9 563.1 290.2 571.4 291.9 578.7C293.6 586.0 295.8 594.2 297.7 599.1C299.6 604.0 302.6 608.1 303.5 607.9C304.5 607.6 308.4 600.3 310.8 596.2C313.3 592.0 316.9 583.7 318.1 583.0C319.4 582.4 322.0 586.9 324.0 588.9C325.9 590.8 328.3 595.5 329.8 594.7C331.3 594.0 335.7 586.4 338.6 581.6C341.5 576.7 346.5 565.4 347.4 565.5C348.3 565.7 353.7 578.4 356.1 584.5C358.6 590.6 360.3 598.1 362.0 602.0C363.7 605.9 365.6 608.6 366.4 607.9C367.1 607.1 371.5 597.2 373.7 590.3C375.8 583.5 377.6 575.2 379.5 567.0C381.4 558.7 383.4 549.9 385.3 540.7C387.3 531.4 389.0 523.6 391.2 511.5C393.4 499.3 396.1 482.2 398.5 467.6C400.9 453.0 403.8 434.0 405.8 423.8C407.7 413.6 408.8 410.2 410.2 406.3C411.5 402.4 413.5 400.1 414.0 400.4C414.5 400.8 417.4 405.8 418.9 412.1C420.5 418.5 421.4 430.9 423.3 438.4C425.3 446.0 427.7 452.1 430.6 457.4C433.5 462.8 438.4 465.9 440.8 470.6C443.3 475.2 443.8 479.3 445.2 485.2C446.7 491.0 447.9 498.3 449.6 505.6C451.3 512.9 453.8 522.7 455.5 529.0C457.2 535.3 457.9 539.5 459.8 543.6C461.8 547.7 466.1 553.3 467.1 553.8C468.2 554.3 468.9 552.6 470.8 549.1C472.8 545.6 476.7 538.9 479.6 531.6C482.5 524.3 485.7 512.6 488.4 505.3C491.0 498.0 493.3 491.8 495.7 487.9C498.0 484.1 500.2 482.5 502.4 482.2C504.6 481.9 506.5 484.5 508.8 485.9C511.1 487.3 513.9 487.4 516.1 490.7C518.3 493.9 520.0 498.0 522.0 505.3C523.9 512.6 525.6 523.8 527.8 534.5C530.0 545.2 532.7 560.2 535.1 569.6C537.5 578.9 541.9 590.3 542.4 590.6C542.9 590.9 546.4 587.2 548.3 578.3C550.1 569.5 552.2 551.5 554.1 534.5C556.1 517.5 558.0 489.6 559.9 476.1C561.9 462.6 563.7 458.0 565.8 453.6C567.9 449.1 570.7 448.8 572.5 449.5C574.3 450.2 576.9 452.2 578.9 458.5C581.0 464.9 583.1 475.1 584.8 487.8C586.5 500.4 587.7 519.4 589.2 534.5C590.6 549.6 592.0 563.1 593.5 578.3C595.1 593.5 596.2 610.4 598.5 625.6C600.8 640.8 607.0 669.2 607.3 669.4C607.5 669.7 612.9 654.3 616.0 640.2C619.2 626.1 623.3 598.8 626.2 584.7C629.2 570.6 631.4 561.4 633.5 555.5C635.7 549.6 638.2 547.5 639.4 548.2C640.5 548.9 645.7 558.2 648.2 564.3C650.6 570.4 652.0 580.1 654.0 584.7C655.9 589.3 658.4 592.6 659.8 592.0C661.3 591.4 665.9 584.0 669.5 578.3C673.1 572.6 677.8 564.2 681.2 557.9C684.6 551.5 687.3 547.2 689.9 540.3C692.6 533.5 695.1 525.7 697.3 517.0C699.4 508.2 701.1 494.5 703.1 487.8C705.0 481.0 707.3 478.7 708.9 476.6C710.5 474.5 711.3 474.3 712.7 475.2C714.2 476.1 715.9 477.9 717.7 481.9C719.5 486.0 721.6 495.1 723.5 499.4C725.5 503.8 726.7 505.8 729.4 508.2C732.1 510.6 736.2 511.9 739.6 514.0C743.0 516.2 746.9 519.6 749.8 521.4C752.8 523.1 755.3 520.1 757.1 524.3C759.0 528.4 759.0 540.2 760.8 546.2C762.7 552.2 766.2 557.4 768.1 560.2C770.1 563.0 771.3 563.8 772.5 562.8C773.8 561.8 776.4 559.2 778.4 552.0C780.3 544.9 782.5 527.9 784.2 519.9C785.9 511.9 787.2 507.0 788.6 503.9C790.0 500.9 791.4 500.8 793.0 501.5C794.6 502.1 796.6 503.7 798.8 508.2C801.0 512.7 803.9 520.4 806.1 528.7C808.3 536.9 809.2 540.7 812.0 557.9C814.7 575.0 820.0 613.8 822.8 631.5C825.5 649.1 826.7 655.8 828.6 663.6C830.5 671.4 834.0 678.2 834.4 678.2C834.9 678.2 838.6 671.4 840.3 663.6C842.0 655.8 843.2 646.6 844.7 631.5C846.1 616.4 847.7 593.1 849.0 573.0C850.4 553.0 851.5 525.3 852.9 511.1C854.2 496.9 855.5 492.8 857.2 487.9C859.0 483.1 862.3 481.8 863.1 482.2C863.9 482.6 866.0 487.3 867.5 493.6C868.9 499.9 870.4 512.1 871.9 519.9C873.3 527.7 874.8 535.1 876.2 540.3C877.7 545.6 880.4 551.3 880.6 551.2C880.8 551.0 883.5 542.1 885.0 534.5C886.5 526.9 887.9 512.6 889.4 505.3C890.8 498.0 892.4 493.5 893.8 490.7C895.1 487.9 896.5 487.4 897.6 488.0C898.6 488.7 900.7 491.7 902.5 496.5C904.3 501.3 906.4 512.0 908.4 517.0C910.3 521.9 913.5 526.3 914.2 526.3C914.9 526.3 917.6 523.8 919.2 517.0C920.8 510.1 922.8 493.6 924.4 481.9C926.0 470.2 927.4 455.8 928.8 446.9C930.3 438.0 931.6 432.3 933.2 428.5C934.8 424.6 936.5 424.7 938.5 423.8C940.4 422.9 942.8 424.0 944.9 423.2C946.9 422.4 948.8 420.2 950.7 419.0C952.7 417.7 955.0 415.6 956.6 415.9C958.2 416.2 959.9 416.6 961.0 421.0C962.0 425.4 963.9 438.7 965.3 452.7C966.8 466.7 968.5 488.7 969.7 505.3C970.9 521.8 971.7 536.0 972.6 552.0C973.6 568.1 974.0 584.0 975.4 601.5C976.9 619.0 979.9 648.2 981.3 657.0C982.7 665.8 986.2 669.2 986.6 669.2C986.9 669.2 989.8 665.6 991.5 657.0C993.3 648.3 995.4 628.7 997.4 616.1C999.3 603.4 1001.5 587.2 1003.2 581.0C1004.9 574.9 1008.3 573.0 1009.0 573.4C1009.8 573.8 1012.9 579.7 1014.9 586.9C1016.8 594.0 1018.9 607.7 1020.7 616.1C1022.6 624.4 1025.9 637.3 1026.0 637.1C1026.1 636.9 1030.4 614.7 1032.4 601.5C1034.5 588.2 1036.3 569.1 1038.3 557.6C1040.2 546.2 1042.9 536.0 1044.1 532.7C1045.3 529.3 1047.5 528.3 1048.5 529.6C1049.4 530.9 1052.4 535.4 1054.3 546.0C1056.3 556.5 1058.2 577.1 1060.2 592.7C1062.1 608.3 1063.8 627.5 1066.0 639.4C1068.2 651.4 1072.6 663.6 1073.3 664.3C1074.0 665.0 1078.2 660.1 1080.6 654.0C1083.1 648.0 1085.7 634.8 1087.9 627.8C1090.1 620.7 1092.2 614.8 1093.8 612.0C1095.4 609.2 1096.7 608.9 1098.1 609.9C1099.6 611.0 1102.0 615.4 1104.0 619.0C1105.9 622.5 1109.4 631.4 1109.8 631.3C1110.3 631.1 1114.0 625.9 1115.7 616.1C1117.4 606.2 1118.6 586.9 1120.1 572.2C1121.5 557.6 1123.0 540.6 1124.4 528.4C1125.9 516.3 1127.2 514.0 1128.8 499.2C1130.4 484.5 1132.5 455.1 1134.1 439.9C1135.7 424.6 1137.0 415.0 1138.5 407.8C1139.9 400.5 1141.6 398.6 1142.9 396.4C1144.2 394.1 1145.2 393.6 1146.4 394.3C1147.6 395.1 1149.8 397.8 1151.6 401.9C1153.5 406.1 1155.8 415.4 1157.5 419.1C1159.2 422.9 1160.9 424.7 1161.9 424.4C1162.9 424.2 1166.0 419.0 1167.7 416.5C1169.4 414.0 1170.8 411.0 1172.1 409.5C1173.4 408.0 1174.8 406.7 1175.6 407.5C1176.4 408.2 1178.1 410.1 1179.4 416.5C1180.7 422.9 1182.3 437.5 1183.8 448.7C1185.2 459.9 1186.6 472.9 1188.1 483.7C1189.7 494.6 1191.1 501.5 1193.1 513.8C1195.1 526.1 1197.7 546.5 1200.4 557.6C1203.1 568.8 1206.5 576.1 1209.2 580.6C1211.8 585.1 1214.5 585.6 1216.5 584.5C1218.4 583.4 1221.3 578.7 1223.8 572.2C1226.2 565.8 1228.6 554.7 1231.1 546.0C1233.5 537.2 1235.9 527.0 1238.4 519.7C1240.9 512.4 1244.7 503.3 1246.1 502.1C1247.6 501.0 1251.2 504.6 1253.4 508.0C1255.6 511.4 1257.3 516.7 1259.3 522.6C1261.2 528.4 1263.2 537.7 1265.1 543.0C1267.1 548.4 1268.8 551.3 1271.0 554.7C1273.1 558.1 1276.1 560.1 1278.3 563.5C1280.5 566.9 1281.9 571.3 1284.1 575.2C1286.3 579.1 1288.7 583.2 1291.4 586.9C1294.1 590.5 1297.5 594.5 1300.2 597.1C1302.8 599.6 1305.5 601.2 1307.5 602.1C1309.4 603.1 1310.2 604.5 1311.9 602.9C1313.6 601.4 1315.8 596.4 1317.7 592.7C1319.6 589.0 1321.6 583.3 1323.5 580.7C1325.5 578.1 1327.4 578.0 1329.4 577.2C1331.3 576.4 1333.3 576.0 1335.2 575.8C1337.2 575.5 1339.1 576.0 1341.1 575.9C1343.0 575.8 1345.0 574.0 1346.9 574.9C1348.9 575.7 1351.1 576.6 1352.8 581.0C1354.5 585.4 1355.7 593.7 1357.1 601.5C1358.6 609.3 1360.1 620.0 1361.5 627.8C1363.0 635.5 1364.8 644.4 1365.9 647.8C1367.0 651.1 1368.9 652.1 1369.4 651.7C1369.9 651.3 1371.9 649.0 1373.2 642.4C1374.5 635.8 1376.1 624.3 1377.6 610.2C1379.0 596.1 1380.8 573.7 1382.0 557.6C1383.2 541.6 1383.9 528.4 1384.9 513.8C1385.9 499.2 1386.9 483.9 1387.8 470.0C1388.7 456.1 1389.3 444.5 1390.5 430.7C1391.7 416.8 1393.8 393.1 1394.9 386.9C1395.9 380.6 1399.0 378.2 1399.3 378.4C1399.6 378.6 1402.4 382.8 1403.7 392.7C1404.9 402.6 1406.3 425.1 1408.0 445.3C1409.8 465.5 1412.4 496.1 1414.1 513.8C1415.8 531.6 1417.1 542.9 1418.5 551.8C1419.9 560.7 1422.1 567.0 1422.3 567.0C1422.5 567.0 1425.7 561.6 1427.3 551.8C1428.8 542.0 1430.4 521.6 1431.6 508.0C1432.9 494.3 1433.9 485.3 1434.6 470.0C1435.2 454.7 1434.9 432.8 1435.8 416.1C1436.7 399.3 1438.7 380.2 1440.2 369.3C1441.6 358.5 1443.8 352.9 1444.6 350.8C1445.3 348.7 1446.6 348.3 1447.5 349.2C1448.4 350.0 1450.6 351.4 1451.9 357.6C1453.1 363.9 1454.8 380.0 1456.2 392.7C1457.7 405.4 1459.2 419.0 1460.6 433.6C1462.1 448.2 1463.5 466.2 1465.0 480.3C1466.5 494.5 1467.9 504.5 1469.4 518.3C1470.9 532.2 1472.5 550.6 1474.0 563.5C1475.5 576.3 1477.4 590.6 1478.4 595.5C1479.4 600.3 1481.5 602.2 1481.9 602.0C1482.2 601.9 1484.5 599.3 1485.7 592.7C1486.9 586.1 1488.5 571.8 1490.1 557.6C1491.6 543.5 1493.6 524.3 1495.0 508.0C1496.5 491.7 1497.3 468.8 1498.6 459.9C1499.9 451.0 1503.3 447.4 1503.6 447.3C1503.9 447.2 1506.4 450.1 1507.4 457.0C1508.3 463.8 1512.3 506.1 1514.2 521.8C1516.1 537.5 1516.6 544.1 1518.6 551.0C1520.5 557.9 1524.4 562.7 1525.9 563.3C1527.4 563.9 1530.8 559.3 1533.2 556.7C1535.6 554.1 1538.1 549.7 1540.5 547.5C1542.9 545.3 1545.4 544.5 1547.8 543.4C1550.2 542.3 1552.9 541.6 1555.1 540.8C1557.3 540.0 1559.3 541.4 1561.0 538.7C1562.7 536.0 1563.9 531.4 1565.3 524.7C1566.8 518.0 1568.2 509.7 1569.7 498.4C1571.3 487.1 1572.8 467.3 1574.6 457.0C1576.3 446.7 1578.5 441.1 1580.4 436.5C1582.3 431.9 1584.3 431.2 1586.2 429.2C1588.2 427.3 1590.1 427.4 1592.1 424.8C1594.0 422.3 1595.7 416.5 1597.9 414.0C1600.1 411.5 1603.0 409.9 1605.2 409.9C1607.4 409.9 1609.1 411.1 1611.1 414.0C1613.0 417.0 1615.0 423.5 1616.9 427.8C1618.9 432.0 1620.8 436.5 1622.8 439.4C1624.7 442.4 1626.7 441.5 1628.6 445.3C1630.5 449.0 1632.1 456.3 1634.0 462.0C1635.9 467.7 1637.6 474.8 1639.8 479.6C1642.0 484.3 1644.9 488.5 1647.1 490.5C1649.3 492.6 1650.5 492.3 1653.0 491.8C1655.4 491.4 1658.8 488.7 1661.7 487.9C1664.7 487.1 1667.8 487.8 1670.5 486.9C1673.2 486.0 1675.6 487.1 1677.8 482.5C1680.0 477.9 1681.7 467.9 1683.7 459.1C1685.6 450.3 1687.5 437.5 1689.5 429.9C1691.4 422.3 1693.7 416.8 1695.3 413.7C1697.0 410.5 1698.5 409.8 1699.7 410.6C1700.9 411.5 1703.6 415.5 1705.6 421.1C1707.5 426.7 1709.5 439.5 1711.4 444.2C1713.4 448.9 1715.3 449.1 1717.2 449.5C1719.2 449.8 1721.4 447.1 1723.1 446.3C1724.8 445.4 1726.1 443.6 1727.5 444.2C1728.8 444.8 1730.2 446.9 1731.9 450.3C1733.6 453.8 1735.8 461.1 1737.7 464.9C1739.6 468.8 1741.6 470.8 1743.5 473.7C1745.5 476.6 1747.4 479.1 1749.4 482.5C1751.3 485.9 1753.3 490.5 1755.2 494.2C1757.2 497.8 1759.5 496.7 1761.1 504.3C1762.7 511.9 1764.0 529.6 1765.5 542.2C1766.9 554.9 1768.4 570.9 1769.8 580.2C1771.3 589.6 1773.6 597.4 1774.2 598.3C1774.8 599.3 1777.8 598.2 1778.6 594.4C1779.4 590.6 1781.6 576.3 1783.0 556.9C1784.4 537.4 1786.0 496.8 1787.1 477.9C1788.2 459.0 1788.8 453.4 1789.7 443.3C1790.6 433.2 1791.0 432.7 1792.3 417.3C1793.6 401.9 1796.0 366.2 1797.6 351.0C1799.2 335.9 1801.3 328.8 1802.0 326.5C1802.6 324.2 1804.2 323.5 1804.9 324.4C1805.6 325.4 1807.8 328.6 1809.3 336.4C1810.7 344.2 1812.2 357.3 1813.7 371.5C1815.1 385.6 1816.1 398.5 1818.0 421.1C1820.0 443.8 1823.6 491.1 1825.2 507.3C1826.8 523.5 1827.5 525.2 1828.7 531.5C1829.8 537.8 1830.8 542.0 1832.1 545.0C1833.4 548.0 1835.4 549.7 1836.4 549.7C1837.5 549.7 1839.5 547.5 1840.8 545.0C1842.1 542.6 1842.9 539.0 1844.2 535.0C1845.5 531.0 1847.1 525.8 1848.6 521.1C1850.0 516.5 1851.4 512.2 1852.9 507.3C1854.3 502.4 1855.8 496.6 1857.2 491.7C1858.7 486.8 1860.1 482.5 1861.5 477.9C1863.0 473.3 1864.4 468.9 1865.9 464.0C1867.3 459.1 1868.7 453.7 1870.2 448.5C1871.6 443.3 1873.1 437.8 1874.5 432.9C1876.0 428.0 1877.5 423.4 1878.8 419.0C1880.1 414.7 1880.5 412.8 1882.3 406.9C1884.1 401.0 1887.4 388.3 1889.6 383.6C1891.8 378.9 1893.5 378.8 1895.5 378.5C1897.4 378.1 1899.4 377.8 1901.3 381.5C1903.2 385.2 1906.0 395.2 1907.1 400.7C1908.2 406.2 1907.2 410.0 1907.9 414.6C1908.6 419.2 1909.9 424.7 1911.4 428.5C1912.8 432.2 1914.8 434.5 1916.6 437.1C1918.3 439.7 1919.7 440.0 1921.8 444.0C1923.8 448.0 1926.7 456.3 1928.7 461.2C1930.7 466.0 1932.2 469.6 1933.9 473.3C1935.6 476.9 1937.3 480.9 1939.1 483.2C1940.8 485.5 1943.0 487.3 1944.3 487.1C1945.5 486.9 1947.2 485.4 1948.6 481.7C1950.0 477.9 1951.6 470.3 1952.9 464.6C1954.2 458.9 1955.2 456.2 1956.4 447.3C1957.5 438.4 1958.7 419.5 1959.8 411.1C1961.0 402.8 1962.2 400.1 1963.3 397.3C1964.4 394.6 1965.8 395.1 1966.8 394.5C1967.8 393.9 1968.5 393.3 1969.4 393.9C1970.2 394.5 1971.1 395.2 1972.0 398.1C1972.8 401.0 1973.7 406.1 1974.6 411.1C1975.4 416.2 1976.3 422.7 1977.2 428.5C1978.0 434.2 1978.7 440.3 1979.7 445.8C1980.8 451.2 1982.2 456.5 1983.2 461.2C1984.2 465.9 1985.5 474.1 1985.5 474.0C1985.5 473.9 1987.4 450.5 1988.0 440.0C1988.6 429.5 1988.6 421.7 1989.3 411.1C1989.9 400.6 1990.9 388.1 1991.9 376.5C1992.9 365.0 1994.2 352.0 1995.3 341.9C1996.5 331.8 1997.6 321.8 1998.8 316.0C1999.9 310.1 2001.3 308.4 2002.2 306.7C2003.2 304.9 2004.0 304.7 2004.8 305.1C2005.7 305.5 2007.4 306.0 2008.3 309.7C2009.2 313.4 2010.6 324.4 2011.8 333.3C2012.9 342.1 2014.1 352.6 2015.2 362.7C2016.4 372.8 2017.5 384.0 2018.7 393.8C2019.8 403.6 2021.0 415.0 2022.1 421.5C2023.3 428.1 2024.7 430.9 2025.6 433.0C2026.5 435.2 2027.6 435.7 2028.2 435.4C2028.9 435.0 2030.5 431.9 2031.7 429.9C2032.8 427.9 2033.8 424.9 2035.1 423.3C2036.4 421.6 2037.9 420.5 2039.5 419.8C2041.0 419.1 2042.9 419.7 2044.6 418.9C2046.4 418.2 2048.1 416.9 2049.8 415.5C2051.6 414.0 2053.3 411.5 2055.0 410.3C2056.8 409.0 2058.5 408.6 2060.2 408.1C2062.0 407.5 2063.8 406.7 2065.4 406.9C2067.0 407.1 2068.3 407.7 2069.7 409.3C2071.2 410.9 2072.8 413.7 2074.1 416.3C2075.4 419.0 2076.0 422.2 2077.5 425.0C2079.0 427.8 2082.1 431.8 2083.0 433.2" stroke="#ff0000" stroke-width="7.4"/>
<path d="M1761.1 504.3C1761.8 510.6 1764.0 529.6 1765.5 542.2C1766.9 554.9 1768.4 570.9 1769.8 580.2C1771.3 589.6 1773.6 597.4 1774.2 598.3C1774.8 599.3 1777.8 598.2 1778.6 594.4C1779.4 590.6 1781.6 576.3 1783.0 556.9C1784.4 537.4 1786.0 496.8 1787.1 477.9C1788.2 459.0 1788.8 453.4 1789.7 443.3C1790.6 433.2 1791.0 432.7 1792.3 417.3C1793.6 401.9 1796.0 366.2 1797.6 351.0C1799.2 335.9 1801.3 328.8 1802.0 326.5C1802.6 324.2 1804.2 323.5 1804.9 324.4C1805.6 325.4 1807.8 328.6 1809.3 336.4C1810.7 344.2 1812.2 357.3 1813.7 371.5C1815.1 385.6 1816.1 398.5 1818.0 421.1C1820.0 443.8 1823.6 491.1 1825.2 507.3C1826.8 523.5 1827.5 525.2 1828.7 531.5C1829.8 537.8 1830.8 542.0 1832.1 545.0C1833.4 548.0 1835.4 549.7 1836.4 549.7C1837.5 549.7 1839.5 547.5 1840.8 545.0C1842.1 542.6 1842.9 539.0 1844.2 535.0C1845.5 531.0 1847.1 525.8 1848.6 521.1C1850.0 516.5 1851.4 512.2 1852.9 507.3C1854.3 502.4 1855.8 496.6 1857.2 491.7C1858.7 486.8 1860.1 482.5 1861.5 477.9C1863.0 473.3 1864.4 468.9 1865.9 464.0C1867.3 459.1 1868.7 453.7 1870.2 448.5C1871.6 443.3 1873.1 437.8 1874.5 432.9C1876.0 428.0 1877.5 423.4 1878.8 419.0C1880.1 414.7 1880.5 412.8 1882.3 406.9C1884.1 401.0 1887.4 388.3 1889.6 383.6C1891.8 378.9 1893.5 378.8 1895.5 378.5C1897.4 378.1 1899.4 377.8 1901.3 381.5C1903.2 385.2 1906.0 395.2 1907.1 400.7C1908.2 406.2 1907.2 410.0 1907.9 414.6C1908.6 419.2 1909.9 424.7 1911.4 428.5C1912.8 432.2 1914.8 434.5 1916.6 437.1C1918.3 439.7 1919.7 440.0 1921.8 444.0C1923.8 448.0 1926.7 456.3 1928.7 461.2C1930.7 466.0 1932.2 469.6 1933.9 473.3C1935.6 476.9 1937.3 480.9 1939.1 483.2C1940.8 485.5 1943.0 487.3 1944.3 487.1C1945.5 486.9 1947.2 485.4 1948.6 481.7C1950.0 477.9 1951.6 470.3 1952.9 464.6C1954.2 458.9 1955.2 456.2 1956.4 447.3C1957.5 438.4 1958.7 419.5 1959.8 411.1C1961.0 402.8 1962.2 400.1 1963.3 397.3C1964.4 394.6 1965.8 395.1 1966.8 394.5C1967.8 393.9 1968.5 393.3 1969.4 393.9C1970.2 394.5 1971.1 395.2 1972.0 398.1C1972.8 401.0 1973.7 406.1 1974.6 411.1C1975.4 416.2 1976.3 422.7 1977.2 428.5C1978.0 434.2 1978.7 440.3 1979.7 445.8C1980.8 451.2 1982.2 456.5 1983.2 461.2C1984.2 465.9 1985.5 474.1 1985.5 474.0C1985.5 473.9 1987.4 450.5 1988.0 440.0C1988.6 429.5 1988.6 421.7 1989.3 411.1C1989.9 400.6 1990.9 388.1 1991.9 376.5C1992.9 365.0 1994.2 352.0 1995.3 341.9C1996.5 331.8 1997.6 321.8 1998.8 316.0C1999.9 310.1 2001.3 308.4 2002.2 306.7C2003.2 304.9 2004.0 304.7 2004.8 305.1C2005.7 305.5 2007.4 306.0 2008.3 309.7C2009.2 313.4 2010.6 324.4 2011.8 333.3C2012.9 342.1 2014.1 352.6 2015.2 362.7C2016.4 372.8 2017.5 384.0 2018.7 393.8C2019.8 403.6 2021.0 415.0 2022.1 421.5C2023.3 428.1 2024.7 430.9 2025.6 433.0C2026.5 435.2 2027.6 435.7 2028.2 435.4C2028.9 435.0 2030.5 431.9 2031.7 429.9C2032.8 427.9 2033.8 424.9 2035.1 423.3C2036.4 421.6 2037.9 420.5 2039.5 419.8C2041.0 419.1 2042.9 419.7 2044.6 418.9C2046.4 418.2 2048.1 416.9 2049.8 415.5C2051.6 414.0 2053.3 411.5 2055.0 410.3C2056.8 409.0 2058.5 408.6 2060.2 408.1C2062.0 407.5 2063.8 406.7 2065.4 406.9C2067.0 407.1 2068.3 407.7 2069.7 409.3C2071.2 410.9 2072.8 413.7 2074.1 416.3C2075.4 419.0 2076.0 422.2 2077.5 425.0C2079.0 427.8 2082.1 431.8 2083.0 433.2" stroke="#ff0000" stroke-width="8.3"/>
<path d="M1628.0 405.4C1628.7 406.1 1630.7 408.0 1632.3 409.2C1633.9 410.4 1635.8 411.9 1637.5 412.7C1639.2 413.5 1641.0 414.2 1642.7 414.1C1644.4 413.9 1646.2 413.1 1647.9 411.8C1649.6 410.6 1651.3 408.7 1653.1 406.6C1654.8 404.6 1656.5 402.0 1658.3 399.7C1660.0 397.4 1661.9 394.3 1663.5 392.8C1665.0 391.3 1666.3 390.3 1667.8 390.7C1669.2 391.1 1670.8 392.6 1672.1 395.4C1673.4 398.2 1674.4 402.9 1675.6 407.5C1676.7 412.1 1677.9 417.3 1679.0 423.1C1680.2 428.8 1681.3 436.1 1682.5 442.1C1683.7 448.2 1684.8 454.5 1686.0 459.4C1687.1 464.3 1688.3 468.1 1689.4 471.5C1690.6 475.0 1691.6 478.2 1692.9 480.2C1694.2 482.2 1696.1 483.6 1697.2 483.6C1698.3 483.6 1699.5 482.5 1700.7 480.2C1701.8 477.9 1703.0 474.1 1704.1 469.8C1705.3 465.5 1706.3 458.0 1707.6 454.2C1708.9 450.5 1710.5 448.6 1711.9 447.3C1713.4 446.0 1714.9 445.9 1716.2 446.4C1717.6 446.9 1718.6 449.5 1720.2 450.2C1721.8 451.0 1724.3 449.2 1725.8 450.8C1727.3 452.3 1728.1 456.5 1729.2 459.4C1730.4 462.3 1731.5 465.5 1732.7 468.1C1733.8 470.7 1735.0 473.4 1736.1 475.0C1737.3 476.6 1738.8 478.0 1739.6 477.6C1740.4 477.2 1741.9 474.9 1743.1 471.5C1744.2 468.2 1745.4 463.5 1746.5 457.7C1747.7 451.9 1748.8 445.0 1750.0 436.9C1751.1 428.8 1752.3 418.2 1753.5 409.2C1754.6 400.3 1755.8 390.5 1756.9 383.3C1758.1 376.1 1759.2 369.9 1760.4 366.0C1761.6 362.0 1763.8 359.6 1764.2 359.6C1764.6 359.6 1766.2 361.7 1767.3 366.0C1768.4 370.2 1769.6 377.2 1770.8 385.0C1771.9 392.8 1773.1 403.5 1774.2 412.7C1775.4 421.9 1776.5 431.7 1777.7 440.4C1778.8 449.0 1780.1 458.8 1781.1 464.6C1782.2 470.4 1783.5 474.8 1783.7 475.0C1784.0 475.2 1786.0 472.2 1787.1 469.2C1788.3 466.2 1789.4 461.4 1790.6 457.1C1791.7 452.8 1792.9 447.9 1794.0 443.3C1795.2 438.7 1796.3 433.7 1797.5 429.4C1798.7 425.1 1799.8 420.5 1801.0 417.3C1802.1 414.1 1803.4 411.8 1804.4 410.4C1805.4 408.9 1806.3 408.4 1807.0 408.7C1807.7 408.9 1808.7 410.4 1809.6 412.1C1810.5 413.8 1811.3 417.0 1812.2 419.0C1813.1 421.1 1814.2 420.4 1814.8 424.2C1815.5 428.0 1815.6 436.3 1816.6 444.5C1817.6 452.7 1819.5 465.4 1821.0 473.7C1822.4 482.0 1824.0 490.3 1825.3 494.2C1826.7 498.1 1828.8 498.0 1829.7 498.5C1830.7 499.1 1830.4 498.3 1831.2 497.8C1832.1 497.2 1833.6 496.2 1834.7 495.2C1835.9 494.2 1837.2 492.4 1838.2 491.7C1839.2 491.1 1839.8 490.9 1840.8 491.4C1841.8 491.8 1843.1 492.8 1844.2 494.3C1845.4 495.8 1846.7 498.8 1847.7 500.4C1848.7 502.0 1849.3 503.4 1850.3 503.8C1851.3 504.3 1852.4 504.3 1853.7 503.0C1855.0 501.7 1856.8 498.5 1858.1 496.1C1859.4 493.6 1860.4 490.7 1861.5 488.3C1862.7 485.8 1863.8 484.5 1865.0 481.3C1866.2 478.2 1867.3 473.3 1868.5 469.2C1869.6 465.2 1870.8 460.3 1871.9 457.1C1873.1 453.9 1873.9 451.8 1875.4 450.2C1876.8 448.6 1878.8 448.2 1880.6 447.6C1882.3 447.0 1884.0 447.5 1885.8 446.7C1887.5 446.0 1889.2 445.3 1891.0 443.3C1892.7 441.2 1894.4 437.8 1896.1 434.6C1897.9 431.4 1899.6 427.7 1901.3 424.2C1903.1 420.8 1904.9 416.3 1906.5 413.8C1908.1 411.4 1909.8 409.5 1910.9 409.5C1912.0 409.5 1913.9 411.7 1915.2 413.8C1916.5 416.0 1917.5 419.0 1918.6 422.5C1919.8 426.0 1921.0 430.6 1922.1 434.6C1923.3 438.7 1924.1 442.7 1925.6 446.7C1927.0 450.8 1929.0 454.8 1930.8 458.8C1932.5 462.9 1934.5 468.1 1936.0 471.0C1937.4 473.8 1939.0 476.3 1939.4 476.2C1939.9 476.0 1941.7 473.3 1942.9 469.2C1944.0 465.2 1945.2 457.7 1946.3 451.9C1947.5 446.2 1949.0 438.5 1949.8 434.6C1950.6 430.7 1950.4 432.4 1951.2 428.5C1952.0 424.5 1953.5 415.2 1954.7 411.1C1955.8 407.1 1957.1 405.5 1958.1 404.2C1959.1 402.9 1959.8 403.4 1960.7 403.4C1961.6 403.4 1962.3 402.9 1963.3 404.2C1964.3 405.5 1965.6 408.6 1966.8 411.1C1967.9 413.7 1969.1 416.9 1970.2 419.8C1971.4 422.7 1972.1 424.2 1973.7 428.5C1975.3 432.8 1978.2 440.1 1979.7 445.6C1981.3 451.0 1982.1 456.0 1983.2 461.2C1984.4 466.3 1985.4 472.1 1986.7 476.7C1988.0 481.3 1989.7 486.2 1991.0 488.8C1992.3 491.4 1993.7 492.5 1994.5 492.3C1995.2 492.1 1996.8 490.3 1997.9 487.1C1999.1 483.9 2000.2 477.9 2001.4 473.3C2002.5 468.7 2003.7 463.5 2004.8 459.4C2006.0 455.4 2007.0 451.5 2008.3 449.0C2009.6 446.6 2011.5 445.0 2012.6 444.7C2013.8 444.5 2014.8 446.0 2016.1 447.3C2017.4 448.6 2018.8 451.1 2020.4 452.5C2022.0 453.9 2023.6 454.8 2025.6 456.0C2027.6 457.1 2030.5 458.4 2032.5 459.4C2034.6 460.4 2036.1 461.4 2037.7 462.0C2039.3 462.6 2040.8 463.6 2042.1 462.9C2043.4 462.2 2044.5 460.3 2045.5 457.7C2046.5 455.1 2047.2 451.1 2048.1 447.3C2049.0 443.6 2050.1 439.8 2050.7 435.2C2051.3 430.6 2050.9 427.3 2051.6 419.8C2052.3 412.3 2053.9 399.9 2055.0 390.4C2056.2 380.9 2057.3 369.9 2058.5 362.7C2059.6 355.5 2060.8 350.2 2062.0 347.1C2063.1 344.0 2064.5 343.7 2065.4 343.7C2066.3 343.7 2067.7 344.8 2068.9 347.1C2070.0 349.4 2071.2 354.0 2072.3 357.5C2073.5 361.0 2074.8 365.7 2075.8 367.9C2076.8 370.0 2077.2 369.6 2078.4 370.5C2079.6 371.4 2082.2 372.8 2083.0 373.2" stroke="#ff0000" stroke-width="2.1"/>
<path d="M175.0 527.5C176.2 528.7 179.9 532.9 182.3 534.8C184.7 536.8 187.0 539.9 189.6 539.2C192.2 538.5 195.4 533.6 198.4 530.5C201.3 527.3 203.7 523.1 207.1 520.2C210.5 517.3 215.7 513.8 218.8 512.9C222.0 512.0 223.9 514.2 226.1 515.0C228.3 515.7 229.8 518.4 232.0 517.3C234.2 516.2 236.8 511.7 239.3 508.5C241.7 505.4 245.3 498.3 246.6 498.3C247.8 498.3 251.2 503.9 253.9 508.5C256.6 513.2 260.2 519.7 262.6 526.1C265.1 532.4 266.5 539.7 268.5 546.5C270.4 553.3 272.4 561.9 274.3 567.0C276.3 572.1 278.0 575.0 280.2 577.2C282.4 579.4 285.3 577.9 287.5 580.1C289.7 582.3 291.4 585.7 293.3 590.3C295.3 595.0 297.5 603.7 299.2 607.9C300.9 612.0 302.9 615.4 303.5 615.2C304.2 615.0 307.4 611.0 309.4 604.9C311.3 598.9 313.0 585.7 315.2 578.7C317.4 571.6 321.6 563.2 322.5 562.6C323.5 562.0 326.2 565.8 328.4 569.9C330.6 574.0 333.5 583.3 335.7 587.4C337.9 591.6 340.6 595.0 341.5 594.7C342.5 594.5 345.4 591.1 347.4 584.5C349.3 577.9 351.3 566.0 353.2 555.3C355.2 544.6 356.9 529.2 359.0 520.2C361.2 511.2 365.8 501.4 366.4 501.2C366.9 501.1 371.2 509.8 373.7 517.3C376.1 524.9 378.5 539.0 381.0 546.5C383.4 554.1 387.7 562.5 388.3 562.6C388.8 562.7 392.2 558.0 394.1 549.4C396.1 540.9 398.0 524.1 399.9 511.5C401.9 498.8 403.9 482.0 405.8 473.5C407.6 465.0 410.8 460.3 411.1 460.3C411.3 460.4 414.2 466.4 416.0 476.4C417.8 486.4 420.2 507.1 421.9 520.2C423.6 533.4 424.8 545.5 426.2 555.3C427.7 565.0 429.2 572.8 430.6 578.7C432.1 584.5 434.5 590.2 435.0 590.3C435.6 590.5 438.7 585.0 440.8 581.6C443.0 578.2 446.6 570.7 448.2 569.9C449.7 569.0 452.0 572.8 454.0 574.3C455.9 575.7 458.6 579.4 459.8 578.7C461.1 577.9 464.0 574.8 465.7 567.0C467.4 559.2 468.0 547.1 470.1 531.9C472.1 516.8 475.8 489.0 478.1 476.1C480.5 463.1 482.7 457.4 484.0 454.3C485.3 451.2 487.3 451.0 488.4 451.8C489.4 452.7 491.3 454.6 492.8 461.5C494.2 468.4 495.4 481.4 497.1 493.6C498.8 505.8 500.5 523.3 503.0 534.5C505.4 545.7 508.5 550.5 511.7 560.8C515.0 571.1 519.8 585.6 522.5 596.4C525.3 607.2 526.4 619.0 528.4 625.6C530.3 632.2 533.2 636.1 534.2 635.8C535.3 635.6 539.8 629.8 543.0 622.7C546.1 615.6 549.6 603.2 553.2 593.5C556.9 583.7 561.0 572.5 564.9 564.3C568.8 556.0 573.3 548.3 576.6 543.8C579.9 539.3 582.6 537.0 584.8 537.4C586.9 537.8 589.9 543.7 592.6 546.7C595.4 549.8 599.1 555.1 601.4 555.5C603.7 555.9 606.4 551.5 608.7 549.7C611.0 547.8 613.6 543.5 615.1 544.4C616.7 545.4 620.5 554.1 623.3 558.4C626.1 562.7 630.2 569.8 632.1 570.1C634.0 570.4 637.9 566.7 640.8 561.3C643.8 556.0 647.0 547.8 649.6 538.0C652.2 528.1 654.5 510.9 656.4 502.4C658.2 493.8 659.6 489.1 660.7 486.6C661.8 484.1 663.2 483.4 664.2 484.5C665.2 485.7 667.9 489.2 669.5 496.5C671.1 503.9 672.7 514.0 673.9 528.7C675.1 543.4 675.5 571.5 676.7 584.7C677.9 598.0 679.1 601.3 681.1 608.1C683.0 614.9 687.9 625.8 688.4 625.6C688.8 625.4 693.2 613.4 695.7 602.2C698.1 591.1 700.5 571.1 703.0 558.4C705.4 545.8 707.8 533.5 710.3 526.3C712.7 519.1 716.5 515.2 717.6 515.2C718.7 515.2 722.7 520.1 724.9 526.3C727.1 532.5 728.8 544.6 730.7 552.6C732.7 560.6 734.8 569.6 736.6 574.5C738.4 579.4 740.9 582.1 741.5 581.8C742.2 581.5 744.9 577.4 746.8 570.1C748.6 562.8 750.3 552.7 752.6 538.0C755.0 523.3 758.5 496.1 760.8 481.9C763.2 467.7 764.8 458.8 766.7 452.7C768.6 446.6 771.8 444.7 772.5 445.1C773.3 445.5 776.4 450.9 778.4 458.5C780.3 466.1 782.3 480.0 784.2 490.7C786.2 501.4 788.1 513.6 790.1 522.8C792.0 532.1 794.0 541.1 795.9 546.2C797.8 551.3 799.8 552.3 801.7 553.5C803.7 554.7 805.6 550.8 807.6 553.5C809.5 556.2 811.5 563.5 813.4 569.6C815.4 575.6 817.0 581.1 819.3 590.0C821.6 598.9 824.7 615.3 827.1 622.7C829.6 630.1 833.0 634.4 833.9 634.4C834.7 634.4 838.2 630.5 840.3 622.7C842.3 614.9 844.2 599.8 846.1 587.6C848.1 575.5 850.0 559.4 852.0 549.7C853.9 539.9 856.4 532.4 857.8 529.2C859.2 526.0 860.9 525.5 862.2 526.3C863.5 527.0 866.1 531.2 868.0 535.1C870.0 539.0 872.2 546.5 873.9 549.7C875.6 552.8 877.3 554.6 878.3 554.0C879.2 553.5 882.2 547.7 884.1 543.8C886.1 539.9 888.2 533.1 889.9 530.7C891.7 528.2 892.7 528.0 894.3 529.2C896.0 530.4 898.2 532.6 900.2 538.0C902.1 543.3 904.1 554.8 906.0 561.3C908.0 567.9 910.3 574.0 911.9 577.4C913.5 580.8 915.0 582.3 915.7 581.8C916.3 581.3 918.8 577.4 920.6 570.1C922.4 562.8 924.6 549.8 926.5 538.0C928.3 526.2 929.7 508.3 931.7 499.4C933.7 490.5 937.6 484.9 938.5 484.5C939.3 484.2 942.6 489.2 944.9 493.6C947.2 498.0 949.8 505.3 952.2 511.1C954.6 517.0 957.3 521.8 959.5 528.7C961.7 535.5 963.9 545.2 965.3 552.0C966.8 558.8 966.7 562.6 968.1 569.3C969.6 576.1 972.0 587.6 974.0 592.6C975.9 597.5 978.6 599.6 979.8 599.1C981.0 598.6 984.7 590.1 987.1 587.3C989.6 584.5 992.0 582.2 994.4 582.2C996.9 582.2 999.3 582.6 1001.7 587.3C1004.2 592.0 1006.6 602.5 1009.0 610.2C1011.5 617.9 1014.4 627.8 1016.3 633.6C1018.3 639.4 1019.4 642.4 1020.7 644.8C1022.1 647.1 1023.7 648.7 1024.5 647.9C1025.3 647.2 1027.8 644.6 1029.5 636.5C1031.2 628.4 1033.4 608.8 1035.3 595.6C1037.3 582.5 1039.4 566.8 1041.2 557.6C1043.0 548.4 1045.0 543.0 1046.1 540.4C1047.3 537.8 1048.6 537.4 1049.9 538.4C1051.3 539.3 1053.7 544.3 1055.8 547.4C1057.9 550.5 1061.6 556.6 1062.5 556.8C1063.4 556.9 1065.7 554.6 1067.5 548.9C1069.3 543.2 1071.4 529.1 1073.3 522.6C1075.3 516.1 1077.6 512.2 1079.2 509.9C1080.7 507.6 1081.5 507.6 1083.0 508.3C1084.4 509.0 1085.9 510.4 1087.9 514.0C1090.0 517.6 1092.8 525.6 1095.2 529.9C1097.7 534.1 1100.3 537.5 1102.5 539.5C1104.7 541.4 1106.2 542.2 1108.4 541.6C1110.6 540.9 1113.5 539.2 1115.7 535.5C1117.9 531.9 1119.6 526.7 1121.5 519.7C1123.5 512.6 1126.0 500.8 1127.4 493.4C1128.7 485.9 1128.6 479.9 1129.7 474.9C1130.8 470.0 1132.6 465.7 1134.1 463.4C1135.6 461.0 1137.0 460.9 1138.5 460.9C1139.9 460.9 1141.4 462.4 1142.9 463.4C1144.3 464.4 1145.9 466.9 1147.2 466.8C1148.6 466.7 1150.2 465.8 1151.6 462.8C1153.1 459.8 1154.6 455.9 1156.0 448.7C1157.5 441.4 1158.9 429.2 1160.4 419.4C1161.9 409.7 1163.3 398.5 1164.8 390.2C1166.2 382.0 1167.6 374.3 1169.2 370.0C1170.8 365.8 1173.6 364.1 1174.4 364.5C1175.2 365.0 1177.8 368.9 1179.4 375.6C1180.9 382.3 1182.3 394.1 1183.8 404.8C1185.2 415.5 1186.7 428.2 1188.1 439.9C1189.6 451.6 1191.1 464.2 1192.5 474.9C1194.0 485.7 1195.5 492.8 1196.9 504.2C1198.3 515.5 1199.0 530.7 1200.8 543.0C1202.7 555.4 1205.7 569.9 1208.1 578.1C1210.6 586.3 1213.5 589.4 1215.4 592.1C1217.4 594.7 1218.2 595.0 1219.8 594.2C1221.4 593.3 1223.7 592.4 1225.7 586.8C1227.6 581.2 1229.6 571.3 1231.5 560.6C1233.5 549.9 1235.4 533.4 1237.4 522.6C1239.3 511.8 1242.0 499.5 1243.2 495.7C1244.5 491.9 1246.9 491.1 1247.6 491.6C1248.3 492.2 1250.5 495.0 1252.0 502.1C1253.4 509.2 1254.9 523.6 1256.3 534.3C1257.8 545.0 1259.3 557.2 1260.7 566.4C1262.2 575.7 1263.7 584.2 1265.1 589.8C1266.6 595.4 1267.8 598.1 1269.5 600.0C1271.2 602.0 1273.6 601.2 1275.3 601.5C1277.0 601.7 1278.3 600.5 1279.7 601.5C1281.2 602.4 1282.4 604.7 1284.1 607.3C1285.8 609.9 1288.0 614.8 1289.9 617.1C1291.9 619.4 1294.2 621.6 1295.8 621.0C1297.4 620.5 1299.7 617.9 1301.6 613.1C1303.6 608.4 1305.8 599.5 1307.5 592.7C1309.2 585.9 1310.4 578.1 1311.9 572.2C1313.3 566.4 1314.8 560.7 1316.2 557.6C1317.7 554.6 1319.2 554.8 1320.6 554.0C1322.1 553.2 1323.3 552.6 1325.0 553.0C1326.7 553.3 1328.9 555.3 1330.8 556.0C1332.8 556.8 1334.7 557.9 1336.7 557.4C1338.6 556.8 1340.6 555.8 1342.5 552.9C1344.5 550.0 1346.4 544.2 1348.4 540.1C1350.3 536.0 1352.3 531.1 1354.2 528.4C1356.2 525.8 1358.1 525.3 1360.1 524.0C1362.0 522.8 1364.0 523.3 1365.9 521.1C1367.9 518.9 1369.8 515.5 1371.7 510.9C1373.7 506.3 1376.2 499.4 1377.6 493.4C1379.0 487.3 1378.9 483.5 1380.3 474.5C1381.7 465.5 1384.2 449.2 1386.1 439.4C1388.1 429.7 1390.0 421.1 1392.0 416.1C1393.9 411.1 1396.8 409.1 1397.8 409.4C1398.9 409.6 1401.7 413.0 1403.7 419.0C1405.6 425.0 1407.5 436.0 1409.5 445.3C1411.4 454.5 1413.1 467.7 1415.3 474.5C1417.5 481.3 1421.3 485.3 1422.6 485.9C1424.0 486.5 1426.7 485.3 1428.5 480.1C1430.2 474.9 1432.6 458.9 1434.3 451.1C1436.0 443.4 1437.2 437.5 1438.7 433.6C1440.3 429.7 1442.8 427.2 1443.7 427.5C1444.5 427.7 1447.3 431.1 1448.9 436.5C1450.5 441.9 1451.6 452.6 1453.3 459.9C1455.0 467.2 1457.2 475.5 1459.2 480.3C1461.1 485.2 1463.4 488.5 1465.0 488.8C1466.6 489.1 1469.9 486.4 1472.3 483.0C1474.7 479.7 1477.4 474.9 1479.6 468.7C1481.8 462.4 1483.5 454.0 1485.5 445.3C1487.4 436.5 1489.6 424.1 1491.3 416.1C1493.0 408.0 1494.6 399.9 1495.7 396.9C1496.7 394.0 1498.5 393.4 1499.2 393.9C1499.9 394.3 1501.8 395.9 1503.0 401.5C1504.1 407.0 1505.9 421.4 1507.4 433.6C1508.8 445.8 1510.3 461.8 1511.7 474.5C1513.2 487.2 1514.3 499.0 1516.1 509.6C1518.0 520.1 1521.4 534.0 1523.0 537.9C1524.6 541.7 1526.9 539.9 1528.8 540.1C1530.8 540.3 1532.5 538.5 1534.7 539.0C1536.9 539.5 1539.8 540.2 1542.0 543.1C1544.2 546.1 1545.6 551.2 1547.8 556.9C1550.0 562.6 1552.9 571.8 1555.1 577.3C1557.3 582.8 1559.3 587.4 1561.0 589.8C1562.7 592.2 1563.9 592.3 1565.3 591.6C1566.7 591.0 1568.3 589.7 1569.7 585.8C1571.2 582.0 1572.6 573.6 1574.1 568.5C1575.6 563.5 1576.8 558.2 1578.5 555.4C1580.2 552.6 1582.4 552.6 1584.3 551.6C1586.3 550.6 1588.5 551.6 1590.2 549.6C1591.9 547.5 1592.8 545.4 1594.6 539.3C1596.3 533.2 1598.4 521.8 1600.4 513.0C1602.3 504.3 1604.0 494.5 1606.2 486.7C1608.4 479.0 1611.1 471.2 1613.5 466.3C1616.0 461.4 1618.7 459.0 1620.8 457.2C1623.0 455.5 1624.7 454.7 1626.7 455.8C1628.6 456.8 1630.6 458.2 1632.5 463.4C1634.5 468.5 1636.2 478.0 1638.4 486.7C1640.6 495.5 1643.2 506.7 1645.7 516.0C1648.1 525.2 1650.5 533.0 1653.0 542.2C1655.4 551.5 1658.1 563.8 1660.3 571.5C1662.5 579.1 1664.6 585.6 1666.1 588.3C1667.6 590.9 1669.1 590.4 1670.5 589.6C1672.0 588.7 1673.5 588.1 1674.9 583.0C1676.3 577.9 1677.8 567.1 1679.3 556.9C1680.7 546.7 1682.2 533.0 1683.7 521.8C1685.1 510.6 1686.6 498.4 1688.0 489.7C1689.5 480.9 1690.7 474.6 1692.4 469.2C1694.1 463.9 1696.3 460.9 1698.3 457.5C1700.2 454.1 1701.9 452.9 1704.1 448.8C1706.3 444.6 1709.0 437.3 1711.4 432.8C1713.8 428.4 1716.3 424.5 1718.7 422.0C1721.1 419.5 1724.4 417.6 1726.0 417.9C1727.7 418.2 1728.9 419.6 1730.4 424.0C1731.9 428.5 1733.3 436.2 1734.8 444.5C1736.2 452.8 1737.5 463.3 1739.2 473.7C1740.9 484.2 1743.1 495.8 1745.0 507.2C1747.0 518.6 1748.9 531.5 1750.8 542.2C1752.8 553.0 1754.7 563.2 1756.7 571.5C1758.6 579.7 1760.6 587.3 1762.5 591.8C1764.5 596.2 1767.3 598.6 1768.4 598.3C1769.5 598.1 1772.5 595.9 1774.2 589.0C1775.9 582.1 1777.3 575.4 1778.6 556.9C1779.9 538.3 1780.8 498.3 1781.9 477.9C1783.1 457.5 1783.5 449.9 1785.4 434.6C1787.3 419.3 1791.2 399.0 1793.2 386.1C1795.2 373.1 1796.3 362.1 1797.6 356.9C1798.9 351.7 1801.3 350.1 1802.0 350.1C1802.6 350.1 1804.6 352.3 1806.4 356.9C1808.1 361.4 1810.2 370.5 1812.2 377.3C1814.1 384.1 1816.1 390.5 1818.0 397.8C1820.0 405.1 1821.9 413.3 1823.9 421.1C1825.8 428.9 1828.0 439.0 1829.7 444.5C1831.4 450.0 1832.4 452.1 1834.1 454.1C1835.8 456.2 1838.0 456.8 1839.9 456.8C1841.9 456.8 1843.8 454.9 1845.8 454.1C1847.7 453.4 1849.9 452.9 1851.6 452.3C1853.3 451.7 1854.3 450.3 1856.0 450.6C1857.7 451.0 1860.2 451.9 1861.9 454.3C1863.6 456.7 1864.8 461.8 1866.2 464.9C1867.7 468.1 1869.2 471.3 1870.6 473.1C1872.1 474.9 1874.1 476.6 1875.0 475.8C1876.0 474.9 1877.9 471.1 1879.4 464.9C1880.8 458.8 1882.3 447.9 1883.8 438.7C1885.2 429.4 1886.7 417.6 1888.2 409.4C1889.6 401.3 1891.1 393.6 1892.5 389.9C1893.9 386.1 1895.9 385.6 1896.9 385.8C1897.9 386.0 1899.9 387.1 1901.3 391.9C1902.7 396.7 1904.3 405.5 1905.7 415.3C1907.1 425.1 1908.4 440.8 1909.7 450.8C1910.9 460.7 1912.0 466.9 1913.1 475.0C1914.3 483.1 1915.3 491.7 1916.6 499.2C1917.9 506.7 1919.5 514.5 1920.9 520.0C1922.3 525.5 1923.8 529.2 1925.2 532.1C1926.7 535.0 1928.3 536.4 1929.6 537.3C1930.9 538.3 1931.7 538.5 1933.0 537.8C1934.3 537.2 1935.9 535.8 1937.3 533.5C1938.8 531.1 1940.2 527.1 1941.7 523.5C1943.1 519.8 1944.4 515.4 1946.0 511.3C1947.6 507.3 1949.5 502.8 1951.2 499.2C1952.9 495.6 1954.7 491.9 1956.4 489.7C1958.1 487.5 1960.0 486.8 1961.6 486.2C1963.2 485.7 1964.5 485.9 1965.9 486.2C1967.3 486.5 1968.9 487.6 1970.2 488.1C1971.5 488.5 1972.4 489.1 1973.7 488.8C1975.0 488.6 1976.9 488.2 1978.0 486.5C1979.2 484.8 1979.7 483.5 1980.6 478.5C1981.5 473.4 1982.1 465.4 1983.2 456.0C1984.4 446.5 1986.2 431.9 1987.5 421.5C1988.8 411.2 1989.8 401.6 1991.0 393.8C1992.2 386.1 1993.3 379.5 1994.5 374.8C1995.6 370.1 1996.8 367.8 1997.9 365.9C1999.1 364.0 2000.4 363.1 2001.4 363.2C2002.3 363.4 2003.7 363.8 2004.8 367.1C2006.0 370.4 2007.1 376.7 2008.3 383.5C2009.5 390.2 2010.6 399.6 2011.8 407.7C2012.9 415.8 2014.2 423.3 2015.2 431.9C2016.2 440.5 2016.7 452.9 2017.8 459.4C2019.0 465.9 2020.7 468.6 2022.1 471.0C2023.6 473.5 2025.1 474.2 2026.5 474.1C2027.8 474.0 2029.4 471.5 2030.8 470.2C2032.2 468.9 2033.4 467.4 2035.1 466.3C2036.9 465.3 2039.0 464.3 2041.2 463.7C2043.4 463.2 2046.1 463.1 2048.1 462.9C2050.1 462.7 2051.7 462.7 2053.3 462.6C2054.9 462.4 2056.2 461.5 2057.6 461.7C2059.1 461.9 2060.5 462.1 2062.0 463.8C2063.4 465.4 2064.8 468.2 2066.3 471.5C2067.7 474.9 2069.2 479.9 2070.6 483.7C2072.1 487.4 2073.6 491.6 2074.9 494.0C2076.2 496.4 2077.1 496.8 2078.4 498.0C2079.7 499.2 2082.2 500.7 2083.0 501.2" stroke="#000000" stroke-width="7.6"/>
<path d="M1762.5 591.8C1763.5 592.9 1767.3 598.6 1768.4 598.3C1769.5 598.1 1772.5 595.9 1774.2 589.0C1775.9 582.1 1777.3 575.4 1778.6 556.9C1779.9 538.3 1780.8 498.3 1781.9 477.9C1783.1 457.5 1783.5 449.9 1785.4 434.6C1787.3 419.3 1791.2 399.0 1793.2 386.1C1795.2 373.1 1796.3 362.1 1797.6 356.9C1798.9 351.7 1801.3 350.1 1802.0 350.1C1802.6 350.1 1804.6 352.3 1806.4 356.9C1808.1 361.4 1810.2 370.5 1812.2 377.3C1814.1 384.1 1816.1 390.5 1818.0 397.8C1820.0 405.1 1821.9 413.3 1823.9 421.1C1825.8 428.9 1828.0 439.0 1829.7 444.5C1831.4 450.0 1832.4 452.1 1834.1 454.1C1835.8 456.2 1838.0 456.8 1839.9 456.8C1841.9 456.8 1843.8 454.9 1845.8 454.1C1847.7 453.4 1849.9 452.9 1851.6 452.3C1853.3 451.7 1854.3 450.3 1856.0 450.6C1857.7 451.0 1860.2 451.9 1861.9 454.3C1863.6 456.7 1864.8 461.8 1866.2 464.9C1867.7 468.1 1869.2 471.3 1870.6 473.1C1872.1 474.9 1874.1 476.6 1875.0 475.8C1876.0 474.9 1877.9 471.1 1879.4 464.9C1880.8 458.8 1882.3 447.9 1883.8 438.7C1885.2 429.4 1886.7 417.6 1888.2 409.4C1889.6 401.3 1891.1 393.6 1892.5 389.9C1893.9 386.1 1895.9 385.6 1896.9 385.8C1897.9 386.0 1899.9 387.1 1901.3 391.9C1902.7 396.7 1904.3 405.5 1905.7 415.3C1907.1 425.1 1908.4 440.8 1909.7 450.8C1910.9 460.7 1912.0 466.9 1913.1 475.0C1914.3 483.1 1915.3 491.7 1916.6 499.2C1917.9 506.7 1919.5 514.5 1920.9 520.0C1922.3 525.5 1923.8 529.2 1925.2 532.1C1926.7 535.0 1928.3 536.4 1929.6 537.3C1930.9 538.3 1931.7 538.5 1933.0 537.8C1934.3 537.2 1935.9 535.8 1937.3 533.5C1938.8 531.1 1940.2 527.1 1941.7 523.5C1943.1 519.8 1944.4 515.4 1946.0 511.3C1947.6 507.3 1949.5 502.8 1951.2 499.2C1952.9 495.6 1954.7 491.9 1956.4 489.7C1958.1 487.5 1960.0 486.8 1961.6 486.2C1963.2 485.7 1964.5 485.9 1965.9 486.2C1967.3 486.5 1968.9 487.6 1970.2 488.1C1971.5 488.5 1972.4 489.1 1973.7 488.8C1975.0 488.6 1976.9 488.2 1978.0 486.5C1979.2 484.8 1979.7 483.5 1980.6 478.5C1981.5 473.4 1982.1 465.4 1983.2 456.0C1984.4 446.5 1986.2 431.9 1987.5 421.5C1988.8 411.2 1989.8 401.6 1991.0 393.8C1992.2 386.1 1993.3 379.5 1994.5 374.8C1995.6 370.1 1996.8 367.8 1997.9 365.9C1999.1 364.0 2000.4 363.1 2001.4 363.2C2002.3 363.4 2003.7 363.8 2004.8 367.1C2006.0 370.4 2007.1 376.7 2008.3 383.5C2009.5 390.2 2010.6 399.6 2011.8 407.7C2012.9 415.8 2014.2 423.3 2015.2 431.9C2016.2 440.5 2016.7 452.9 2017.8 459.4C2019.0 465.9 2020.7 468.6 2022.1 471.0C2023.6 473.5 2025.1 474.2 2026.5 474.1C2027.8 474.0 2029.4 471.5 2030.8 470.2C2032.2 468.9 2033.4 467.4 2035.1 466.3C2036.9 465.3 2039.0 464.3 2041.2 463.7C2043.4 463.2 2046.1 463.1 2048.1 462.9C2050.1 462.7 2051.7 462.7 2053.3 462.6C2054.9 462.4 2056.2 461.5 2057.6 461.7C2059.1 461.9 2060.5 462.1 2062.0 463.8C2063.4 465.4 2064.8 468.2 2066.3 471.5C2067.7 474.9 2069.2 479.9 2070.6 483.7C2072.1 487.4 2073.6 491.6 2074.9 494.0C2076.2 496.4 2077.1 496.8 2078.4 498.0C2079.7 499.2 2082.2 500.7 2083.0 501.2" stroke="#000000" stroke-width="8.5"/>
<path d="M1628.0 428.3C1628.6 426.5 1630.3 421.3 1631.4 417.9C1632.6 414.4 1633.7 410.5 1634.9 407.5C1636.1 404.5 1637.2 401.4 1638.4 399.7C1639.5 398.1 1640.7 397.5 1641.8 397.6C1643.0 397.8 1644.1 398.4 1645.3 400.6C1646.4 402.8 1647.6 406.6 1648.7 411.0C1649.9 415.3 1651.1 420.8 1652.2 426.5C1653.4 432.3 1654.5 439.2 1655.7 445.6C1656.8 451.9 1658.0 458.8 1659.1 464.6C1660.3 470.4 1661.4 475.6 1662.6 480.2C1663.7 484.8 1664.8 489.3 1666.1 492.3C1667.4 495.3 1668.9 497.5 1670.4 498.4C1671.8 499.2 1673.4 498.5 1674.7 497.5C1676.0 496.5 1677.0 495.5 1678.2 492.3C1679.3 489.1 1680.5 483.6 1681.6 478.5C1682.8 473.3 1683.9 466.3 1685.1 461.1C1686.2 456.0 1687.4 451.1 1688.6 447.3C1689.7 443.6 1690.7 440.7 1692.0 438.7C1693.3 436.6 1695.2 435.2 1696.3 435.2C1697.5 435.2 1698.7 436.6 1699.8 438.7C1701.0 440.7 1702.1 443.6 1703.3 447.3C1704.4 451.1 1705.1 455.1 1706.7 461.1C1708.3 467.2 1710.9 475.2 1712.9 483.8C1714.9 492.5 1716.8 503.8 1718.7 513.0C1720.7 522.3 1722.6 532.3 1724.6 539.3C1726.5 546.4 1728.6 551.9 1730.4 555.4C1732.2 558.9 1734.4 560.8 1735.4 560.4C1736.3 560.0 1739.0 556.5 1740.6 551.0C1742.2 545.6 1743.5 535.4 1745.0 527.6C1746.5 519.9 1747.9 509.6 1749.4 504.3C1750.8 498.9 1752.3 497.2 1753.8 495.5C1755.2 493.8 1756.4 493.6 1758.2 494.0C1759.9 494.5 1762.0 497.3 1764.0 498.4C1765.9 499.5 1767.4 501.6 1769.8 500.8C1772.2 499.9 1776.4 497.3 1778.5 493.5C1780.5 489.6 1780.8 482.5 1781.9 477.9C1783.1 473.3 1784.1 470.1 1785.4 465.8C1786.7 461.4 1788.1 455.4 1789.7 451.9C1791.3 448.5 1793.2 446.7 1794.9 445.0C1796.6 443.3 1798.4 442.8 1800.1 441.5C1801.8 440.2 1803.6 439.2 1805.3 437.2C1807.0 435.2 1808.7 431.7 1810.5 429.4C1812.2 427.1 1814.4 424.5 1815.7 423.4C1817.0 422.2 1817.3 421.4 1818.3 422.5C1819.3 423.6 1821.2 427.1 1822.6 431.2C1824.0 435.2 1825.3 442.1 1826.9 446.7C1828.5 451.3 1830.7 456.0 1832.1 458.8C1833.6 461.7 1834.3 462.4 1835.6 464.0C1836.9 465.6 1838.3 467.5 1839.9 468.4C1841.5 469.2 1843.5 468.7 1845.1 469.2C1846.7 469.8 1848.0 470.5 1849.4 471.8C1850.9 473.1 1852.3 475.1 1853.7 477.0C1855.2 478.9 1856.5 481.2 1858.1 483.1C1859.7 484.9 1861.5 486.8 1863.3 488.3C1865.0 489.7 1866.9 490.6 1868.5 491.7C1870.0 492.9 1871.3 493.6 1872.8 495.2C1874.2 496.8 1875.7 499.4 1877.1 501.2C1878.6 503.1 1880.1 505.4 1881.4 506.4C1882.7 507.4 1883.6 507.6 1884.9 507.3C1886.2 507.0 1887.8 505.3 1889.2 504.7C1890.7 504.1 1892.3 503.7 1893.6 503.8C1894.9 504.0 1895.9 504.4 1897.0 505.6C1898.2 506.7 1899.3 508.5 1900.5 510.8C1901.6 513.1 1902.6 516.5 1903.9 519.4C1905.2 522.3 1906.7 525.5 1908.3 528.1C1909.9 530.7 1911.7 533.3 1913.5 535.0C1915.2 536.7 1917.2 537.9 1918.6 538.5C1920.1 539.0 1920.8 539.0 1922.1 538.5C1923.4 537.9 1925.3 536.7 1926.4 535.0C1927.6 533.3 1928.0 530.7 1929.0 528.1C1930.0 525.5 1931.1 522.6 1932.5 519.4C1933.9 516.2 1936.0 511.9 1937.7 509.0C1939.4 506.1 1941.1 504.7 1942.9 502.1C1944.6 499.5 1946.7 496.0 1948.1 493.5C1949.5 491.0 1949.8 490.2 1951.2 487.1C1952.6 484.0 1954.7 479.3 1956.4 475.0C1958.1 470.7 1959.8 465.8 1961.6 461.2C1963.3 456.5 1965.5 451.3 1966.8 447.3C1968.1 443.3 1968.4 441.1 1969.4 437.1C1970.4 433.1 1971.7 426.9 1972.8 423.3C1974.0 419.7 1975.1 417.1 1976.3 415.5C1977.4 413.8 1978.8 412.9 1979.7 413.2C1980.7 413.6 1982.2 415.5 1983.2 418.1C1984.2 420.6 1985.1 425.3 1985.8 428.5C1986.5 431.6 1986.7 431.3 1987.5 437.1C1988.4 442.9 1989.8 456.9 1991.0 464.6C1992.2 472.4 1993.3 477.9 1994.5 483.7C1995.6 489.4 1996.8 495.8 1997.9 499.2C1999.0 502.7 2000.6 504.4 2001.0 504.4C2001.4 504.4 2002.9 502.4 2004.0 499.2C2005.0 496.1 2006.3 490.6 2007.4 485.4C2008.6 480.2 2009.7 473.6 2010.9 468.1C2012.1 462.6 2013.2 456.7 2014.4 452.5C2015.5 448.3 2016.7 445.0 2017.8 443.0C2019.0 441.0 2020.3 440.3 2021.3 440.4C2022.3 440.5 2023.6 441.8 2024.7 443.8C2025.9 445.9 2027.1 448.7 2028.2 452.5C2029.4 456.2 2030.4 461.4 2031.7 466.3C2033.0 471.2 2034.6 476.7 2036.0 481.9C2037.4 487.1 2038.9 493.2 2040.3 497.5C2041.8 501.8 2043.2 505.4 2044.6 507.9C2046.1 510.3 2047.8 511.5 2049.0 512.2C2050.1 512.9 2050.6 512.9 2051.6 512.2C2052.6 511.5 2053.9 510.6 2055.0 507.9C2056.2 505.1 2057.3 500.4 2058.5 495.8C2059.6 491.2 2060.8 485.4 2062.0 480.2C2063.1 475.0 2064.1 469.2 2065.4 464.6C2066.7 460.0 2068.3 456.0 2069.7 452.5C2071.2 449.0 2072.8 445.9 2074.1 443.8C2075.4 441.8 2076.0 441.5 2077.5 440.4C2079.0 439.3 2082.1 437.7 2083.0 437.1" stroke="#000000" stroke-width="2.1"/>
</g>
<text x="175.5" y="870.2" font-size="53" text-anchor="middle" textLength="114.3" lengthAdjust="spacingAndGlyphs">1000</text>
<text x="559.9" y="870.2" font-size="53" text-anchor="middle" textLength="114.3" lengthAdjust="spacingAndGlyphs">1200</text>
<text x="944.4" y="870.2" font-size="53" text-anchor="middle" textLength="114.3" lengthAdjust="spacingAndGlyphs">1400</text>
<text x="1328.8" y="870.2" font-size="53" text-anchor="middle" textLength="114.3" lengthAdjust="spacingAndGlyphs">1600</text>
<text x="1713.3" y="870.2" font-size="53" text-anchor="middle" textLength="114.3" lengthAdjust="spacingAndGlyphs">1800</text>
<text x="163.3" y="130.3" font-size="53" text-anchor="end" textLength="71.9" lengthAdjust="spacingAndGlyphs">1.0</text>
<text x="163.3" y="328.8" font-size="53" text-anchor="end" textLength="71.9" lengthAdjust="spacingAndGlyphs">0.5</text>
<text x="163.3" y="527.3" font-size="53" text-anchor="end" textLength="71.9" lengthAdjust="spacingAndGlyphs">0.0</text>
<text x="163.3" y="725.8" font-size="53" text-anchor="end" textLength="89.2" lengthAdjust="spacingAndGlyphs">-0.5</text>
<text x="1126.8" y="923.2" font-size="52" text-anchor="middle">Year</text>
<g fill="none" stroke="#000" stroke-width="4.8"><circle cx="27.6" cy="427.9" r="6.9"/><circle cx="10.3" cy="451.6" r="6.9"/></g><path d="M0 428L0 432.6L37 451.2L37 446.8Z" fill="#000"/>
<rect x="194" y="103.1" width="290.2" height="112.9" fill="none" stroke="#000" stroke-width="2"/>
<line x1="224" y1="128.4" x2="341" y2="128.4" stroke="#0066ff" stroke-width="3.2"/>
<text x="359.3" y="136.4" font-size="34" textLength="65.5" lengthAdjust="spacingAndGlyphs">DJF</text>
<line x1="224" y1="159.0" x2="341" y2="159.0" stroke="#ff0000" stroke-width="3.2"/>
<text x="358.6" y="167.0" font-size="34" textLength="63.5" lengthAdjust="spacingAndGlyphs">JJA</text>
<line x1="224" y1="189.6" x2="341" y2="189.6" stroke="#000000" stroke-width="3.2"/>
<text x="359.2" y="197.5" font-size="34" textLength="114" lengthAdjust="spacingAndGlyphs">Annual</text>
</svg></body></html>
